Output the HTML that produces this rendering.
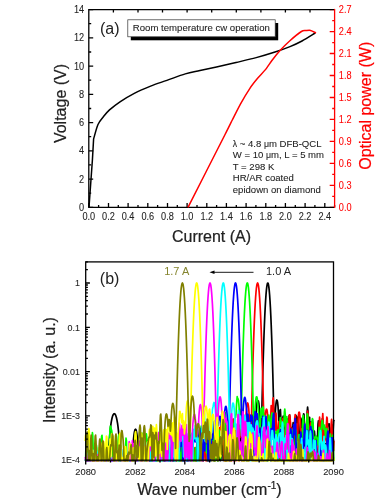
<!DOCTYPE html>
<html><head><meta charset="utf-8"><style>
html,body{margin:0;padding:0;background:#fff;width:392px;height:500px;overflow:hidden}
svg{display:block;will-change:transform;filter:blur(0.5px)}
text{font-family:"Liberation Sans", sans-serif}
</style></head><body>
<svg width="392" height="500" viewBox="0 0 392 500">
<path d="M88.8 207.3v-4.2 M98.6 207.3v-2.2 M108.5 207.3v-4.2 M118.3 207.3v-2.2 M128.1 207.3v-4.2 M138.0 207.3v-2.2 M147.8 207.3v-4.2 M157.6 207.3v-2.2 M167.5 207.3v-4.2 M177.3 207.3v-2.2 M187.1 207.3v-4.2 M197.0 207.3v-2.2 M206.8 207.3v-4.2 M216.6 207.3v-2.2 M226.4 207.3v-4.2 M236.3 207.3v-2.2 M246.1 207.3v-4.2 M255.9 207.3v-2.2 M265.8 207.3v-4.2 M275.6 207.3v-2.2 M285.4 207.3v-4.2 M295.3 207.3v-2.2 M305.1 207.3v-4.2 M314.9 207.3v-2.2 M324.8 207.3v-4.2 M334.6 207.3v-2.2 M113.4 9.6v3 M138.0 9.6v3 M162.5 9.6v3 M187.1 9.6v3 M211.7 9.6v3 M236.3 9.6v3 M260.9 9.6v3 M285.4 9.6v3 M310.0 9.6v3 M88.8 207.3h4.4 M88.8 193.2h2.4 M88.8 179.1h4.4 M88.8 164.9h2.4 M88.8 150.8h4.4 M88.8 136.7h2.4 M88.8 122.6h4.4 M88.8 108.5h2.4 M88.8 94.3h4.4 M88.8 80.2h2.4 M88.8 66.1h4.4 M88.8 52.0h2.4 M88.8 37.8h4.4 M88.8 23.7h2.4 M88.8 9.6h4.4" stroke="#000" stroke-width="1.3" fill="none"/>
<path d="M334.6 207.3h-4.9 M334.6 196.3h-2.4 M334.6 185.3h-4.9 M334.6 174.4h-2.4 M334.6 163.4h-4.9 M334.6 152.4h-2.4 M334.6 141.4h-4.9 M334.6 130.4h-2.4 M334.6 119.4h-4.9 M334.6 108.5h-2.4 M334.6 97.5h-4.9 M334.6 86.5h-2.4 M334.6 75.5h-4.9 M334.6 64.5h-2.4 M334.6 53.5h-4.9 M334.6 42.6h-2.4 M334.6 31.6h-4.9 M334.6 20.6h-2.4 M334.6 9.6h-4.9" stroke="#f00" stroke-width="1.3" fill="none"/>
<path d="M334.6 9.6H88.8V207.3H334.6" stroke="#000" stroke-width="1.3" fill="none" stroke-linejoin="miter"/>
<path d="M334.6 8.9V208.0" stroke="#f00" stroke-width="1.3" fill="none"/>
<text transform="translate(88.8 220.1) scale(0.92 1)" font-size="10.0" text-anchor="middle" fill="#222" stroke="#222" stroke-width="0.08" >0.0</text>
<text transform="translate(108.5 220.1) scale(0.92 1)" font-size="10.0" text-anchor="middle" fill="#222" stroke="#222" stroke-width="0.08" >0.2</text>
<text transform="translate(128.1 220.1) scale(0.92 1)" font-size="10.0" text-anchor="middle" fill="#222" stroke="#222" stroke-width="0.08" >0.4</text>
<text transform="translate(147.8 220.1) scale(0.92 1)" font-size="10.0" text-anchor="middle" fill="#222" stroke="#222" stroke-width="0.08" >0.6</text>
<text transform="translate(167.5 220.1) scale(0.92 1)" font-size="10.0" text-anchor="middle" fill="#222" stroke="#222" stroke-width="0.08" >0.8</text>
<text transform="translate(187.1 220.1) scale(0.92 1)" font-size="10.0" text-anchor="middle" fill="#222" stroke="#222" stroke-width="0.08" >1.0</text>
<text transform="translate(206.8 220.1) scale(0.92 1)" font-size="10.0" text-anchor="middle" fill="#222" stroke="#222" stroke-width="0.08" >1.2</text>
<text transform="translate(226.4 220.1) scale(0.92 1)" font-size="10.0" text-anchor="middle" fill="#222" stroke="#222" stroke-width="0.08" >1.4</text>
<text transform="translate(246.1 220.1) scale(0.92 1)" font-size="10.0" text-anchor="middle" fill="#222" stroke="#222" stroke-width="0.08" >1.6</text>
<text transform="translate(265.8 220.1) scale(0.92 1)" font-size="10.0" text-anchor="middle" fill="#222" stroke="#222" stroke-width="0.08" >1.8</text>
<text transform="translate(285.4 220.1) scale(0.92 1)" font-size="10.0" text-anchor="middle" fill="#222" stroke="#222" stroke-width="0.08" >2.0</text>
<text transform="translate(305.1 220.1) scale(0.92 1)" font-size="10.0" text-anchor="middle" fill="#222" stroke="#222" stroke-width="0.08" >2.2</text>
<text transform="translate(324.8 220.1) scale(0.92 1)" font-size="10.0" text-anchor="middle" fill="#222" stroke="#222" stroke-width="0.08" >2.4</text>
<text transform="translate(84.2 210.8) scale(0.92 1)" font-size="10.0" text-anchor="end" fill="#222" stroke="#222" stroke-width="0.08" >0</text>
<text transform="translate(84.2 182.6) scale(0.92 1)" font-size="10.0" text-anchor="end" fill="#222" stroke="#222" stroke-width="0.08" >2</text>
<text transform="translate(84.2 154.3) scale(0.92 1)" font-size="10.0" text-anchor="end" fill="#222" stroke="#222" stroke-width="0.08" >4</text>
<text transform="translate(84.2 126.1) scale(0.92 1)" font-size="10.0" text-anchor="end" fill="#222" stroke="#222" stroke-width="0.08" >6</text>
<text transform="translate(84.2 97.8) scale(0.92 1)" font-size="10.0" text-anchor="end" fill="#222" stroke="#222" stroke-width="0.08" >8</text>
<text transform="translate(84.2 69.6) scale(0.92 1)" font-size="10.0" text-anchor="end" fill="#222" stroke="#222" stroke-width="0.08" >10</text>
<text transform="translate(84.2 41.3) scale(0.92 1)" font-size="10.0" text-anchor="end" fill="#222" stroke="#222" stroke-width="0.08" >12</text>
<text transform="translate(84.2 13.1) scale(0.92 1)" font-size="10.0" text-anchor="end" fill="#222" stroke="#222" stroke-width="0.08" >14</text>
<text transform="translate(338.8 210.8) scale(0.92 1)" font-size="10.0" text-anchor="start" fill="#f00" stroke="#f00" stroke-width="0.08" >0.0</text>
<text transform="translate(338.8 188.8) scale(0.92 1)" font-size="10.0" text-anchor="start" fill="#f00" stroke="#f00" stroke-width="0.08" >0.3</text>
<text transform="translate(338.8 166.9) scale(0.92 1)" font-size="10.0" text-anchor="start" fill="#f00" stroke="#f00" stroke-width="0.08" >0.6</text>
<text transform="translate(338.8 144.9) scale(0.92 1)" font-size="10.0" text-anchor="start" fill="#f00" stroke="#f00" stroke-width="0.08" >0.9</text>
<text transform="translate(338.8 122.9) scale(0.92 1)" font-size="10.0" text-anchor="start" fill="#f00" stroke="#f00" stroke-width="0.08" >1.2</text>
<text transform="translate(338.8 101.0) scale(0.92 1)" font-size="10.0" text-anchor="start" fill="#f00" stroke="#f00" stroke-width="0.08" >1.5</text>
<text transform="translate(338.8 79.0) scale(0.92 1)" font-size="10.0" text-anchor="start" fill="#f00" stroke="#f00" stroke-width="0.08" >1.8</text>
<text transform="translate(338.8 57.0) scale(0.92 1)" font-size="10.0" text-anchor="start" fill="#f00" stroke="#f00" stroke-width="0.08" >2.1</text>
<text transform="translate(338.8 35.1) scale(0.92 1)" font-size="10.0" text-anchor="start" fill="#f00" stroke="#f00" stroke-width="0.08" >2.4</text>
<text transform="translate(338.8 13.1) scale(0.92 1)" font-size="10.0" text-anchor="start" fill="#f00" stroke="#f00" stroke-width="0.08" >2.7</text>
<text x="211.5" y="241.8" font-size="16" text-anchor="middle" fill="#222" stroke="#222" stroke-width="0.22" >Current (A)</text>
<text transform="translate(65.8 103.5) rotate(-90)" font-size="16" text-anchor="middle" fill="#222" stroke="#222" stroke-width="0.22">Voltage (V)</text>
<text transform="translate(370.9 105.8) rotate(-90)" font-size="16" text-anchor="middle" fill="#f00" stroke="#f00" stroke-width="0.22">Optical power (W)</text>
<text x="100.0" y="34.4" font-size="16" text-anchor="start" fill="#222" >(a)</text>
<rect x="130.8" y="23" width="147.4" height="17.3" fill="#000"/>
<rect x="127.8" y="19.8" width="147.4" height="17" fill="#fff" stroke="#333" stroke-width="0.7"/>
<text x="132.8" y="31.3" font-size="9.6" text-anchor="start" fill="#222" stroke="#222" stroke-width="0.08" >Room temperature cw operation</text>
<text x="232.8" y="147.0" font-size="9.55" text-anchor="start" fill="#222" stroke="#222" stroke-width="0.08" ><tspan font-size="8.6">&#955;</tspan> ~ 4.8 <tspan font-size="8.8">&#956;</tspan>m DFB-QCL</text>
<text x="232.8" y="158.4" font-size="9.55" text-anchor="start" fill="#222" stroke="#222" stroke-width="0.08" >W = 10 <tspan font-size="8.8">&#956;</tspan>m, L = 5 mm</text>
<text x="232.8" y="169.9" font-size="9.55" text-anchor="start" fill="#222" stroke="#222" stroke-width="0.08" >T = 298 K</text>
<text x="232.8" y="181.3" font-size="9.55" text-anchor="start" fill="#222" stroke="#222" stroke-width="0.08" >HR/AR coated</text>
<text x="232.8" y="192.8" font-size="9.55" text-anchor="start" fill="#222" stroke="#222" stroke-width="0.08" >epidown on diamond</text>
<path d="M89.0 207.3 L92.4 160 L93.6 139 C94.33 136.58 96.37 128.20 98.0 124.5 C99.63 120.80 101.48 119.23 103.4 116.8 C105.32 114.37 106.73 112.40 109.5 109.9 C112.27 107.40 115.87 104.57 120.0 101.8 C124.13 99.03 129.20 95.92 134.3 93.3 C139.40 90.68 145.17 88.25 150.6 86.1 C156.03 83.95 161.12 82.43 166.9 80.4 C172.68 78.37 179.78 75.53 185.3 73.9 C190.82 72.27 194.80 71.75 200.0 70.6 C205.20 69.45 210.50 68.35 216.5 67.0 C222.50 65.65 229.38 64.07 236.0 62.5 C242.62 60.93 249.70 59.35 256.2 57.6 C262.70 55.85 269.37 53.83 275.0 52.0 C280.63 50.17 285.50 48.43 290.0 46.6 C294.50 44.77 297.78 43.27 302.0 41.0 C306.22 38.73 313.08 34.33 315.3 33.0" stroke="#000" stroke-width="1.5" fill="none" stroke-linejoin="round"/>
<path d="M188.0 207.3 C192.91 197.66 218.89 146.64 224.8 135.0 C230.71 123.36 230.18 124.19 232.3 120.0 C234.42 115.81 238.35 107.83 240.7 103.6 C243.05 99.37 247.65 91.67 249.9 88.3 C252.15 84.93 255.56 80.75 257.6 78.3 C259.64 75.85 263.16 72.45 265.2 69.9 C267.24 67.35 270.86 61.85 272.9 59.2 C274.94 56.55 278.23 52.47 280.5 50.0 C282.77 47.53 287.11 43.17 289.9 40.7 C292.69 38.23 299.25 32.85 301.4 31.5 C303.55 30.15 304.77 30.75 306.0 30.6 C307.23 30.45 309.27 30.08 310.6 30.4 C311.93 30.72 315.28 32.65 316.0 33.0" stroke="#f00" stroke-width="1.5" fill="none" stroke-linejoin="round"/>
<path d="M85.2 460.7 L85.6 460.7 L86.0 457.5 L86.4 450.6 L86.8 453.2 L87.2 460.7 L87.6 460.7 L88.0 460.7 L88.4 460.7 L88.8 460.7 L89.2 460.7 L89.6 460.7 L90.0 460.7 L90.4 460.7 L90.8 460.7 L91.2 460.7 L91.6 460.7 L92.0 460.7 L92.4 460.7 L92.8 460.7 L93.2 460.7 L93.6 460.7 L94.0 460.7 L94.4 460.7 L94.8 460.7 L95.2 460.7 L95.6 460.7 L96.0 460.7 L96.4 460.7 L96.8 460.7 L97.2 457.0 L97.6 453.5 L98.0 455.5 L98.4 460.7 L98.8 460.7 L99.2 460.7 L99.6 460.7 L100.0 456.7 L100.4 454.3 L100.8 456.6 L101.2 460.7 L101.6 460.7 L102.0 460.7 L102.4 460.7 L102.8 459.9 L103.2 452.7 L103.6 453.8 L104.0 460.7 L104.4 460.7 L104.8 460.7 L105.2 460.7 L105.6 460.7 L106.0 460.7 L106.4 460.7 L106.8 460.7 L107.2 460.7 L107.6 460.7 L108.0 460.7 L108.4 456.5 L108.8 448.3 L109.2 441.8 L109.6 436.5 L110.0 432.0 L110.4 428.3 L110.8 425.1 L111.2 422.4 L111.6 420.2 L112.0 418.3 L112.4 416.8 L112.8 415.6 L113.2 414.7 L113.6 414.1 L114.0 413.8 L114.4 413.7 L114.8 413.9 L115.2 414.4 L115.6 415.1 L116.0 416.2 L116.4 417.5 L116.8 419.2 L117.2 421.3 L117.6 423.7 L118.0 426.6 L118.4 430.1 L118.8 434.1 L119.2 439.0 L119.6 444.9 L120.0 452.1 L120.4 460.7 L120.8 460.7 L121.2 460.7 L121.6 460.7 L122.0 459.6 L122.4 455.9 L122.8 460.7 L123.2 460.7 L123.6 460.7 L124.0 460.7 L124.4 460.7 L124.8 460.7 L125.2 460.7 L125.6 460.7 L126.0 460.7 L126.4 460.7 L126.8 460.7 L127.2 460.7 L127.6 460.1 L128.0 460.7 L128.4 460.7 L128.8 460.7 L129.2 460.7 L129.6 460.7 L130.0 460.7 L130.4 460.7 L130.8 460.7 L131.2 460.7 L131.6 460.7 L132.0 460.7 L132.4 458.3 L132.8 449.6 L133.2 443.2 L133.6 438.4 L134.0 434.7 L134.4 432.1 L134.8 430.4 L135.2 429.4 L135.6 429.2 L136.0 429.8 L136.4 431.1 L136.8 433.3 L137.2 436.4 L137.6 440.6 L138.0 446.2 L138.4 453.6 L138.8 460.7 L139.2 460.7 L139.6 460.7 L140.0 460.7 L140.4 460.7 L140.8 460.7 L141.2 460.7 L141.6 460.7 L142.0 460.7 L142.4 460.7 L142.8 460.7 L143.2 460.7 L143.6 453.3 L144.0 451.7 L144.4 458.1 L144.8 460.7 L145.2 460.7 L145.6 460.7 L146.0 460.7 L146.4 460.7 L146.8 460.7 L147.2 460.7 L147.6 453.8 L148.0 448.6 L148.4 449.5 L148.8 457.1 L149.2 460.7 L149.6 460.7 L150.0 460.7 L150.4 460.7 L150.8 460.7 L151.2 460.7 L151.6 460.7 L152.0 460.7 L152.4 460.7 L152.8 460.7 L153.2 460.7 L153.6 460.7 L154.0 460.7 L154.4 460.7 L154.8 460.7 L155.2 460.7 L155.6 460.7 L156.0 460.7 L156.4 460.7 L156.8 460.7 L157.2 460.0 L157.6 460.7 L158.0 460.7 L158.4 460.7 L158.8 460.1 L159.2 460.7 L159.6 460.7 L160.0 460.7 L160.4 460.7 L160.8 460.7 L161.2 458.9 L161.6 456.9 L162.0 455.7 L162.4 456.3 L162.8 460.6 L163.2 460.7 L163.6 460.7 L164.0 460.7 L164.4 460.7 L164.8 460.7 L165.2 460.7 L165.6 459.1 L166.0 448.6 L166.4 447.1 L166.8 452.8 L167.2 460.7 L167.6 460.7 L168.0 460.7 L168.4 460.7 L168.8 460.7 L169.2 460.7 L169.6 460.7 L170.0 460.7 L170.4 456.6 L170.8 448.6 L171.2 447.2 L171.6 452.8 L172.0 460.7 L172.4 460.7 L172.8 460.7 L173.2 460.7 L173.6 460.7 L174.0 460.7 L174.4 460.7 L174.8 460.7 L175.2 460.7 L175.6 460.7 L176.0 460.7 L176.4 460.7 L176.8 460.7 L177.2 460.6 L177.6 444.9 L178.0 440.5 L178.4 445.8 L178.8 460.7 L179.2 460.7 L179.6 460.7 L180.0 460.7 L180.4 460.7 L180.8 460.7 L181.2 460.7 L181.6 460.7 L182.0 460.7 L182.4 458.9 L182.8 456.1 L183.2 460.7 L183.6 460.7 L184.0 460.7 L184.4 460.7 L184.8 460.7 L185.2 457.0 L185.6 447.1 L186.0 445.9 L186.4 454.0 L186.8 460.7 L187.2 460.7 L187.6 460.7 L188.0 460.7 L188.4 460.7 L188.8 460.7 L189.2 460.7 L189.6 456.4 L190.0 449.9 L190.4 456.8 L190.8 460.7 L191.2 460.7 L191.6 460.7 L192.0 458.0 L192.4 447.3 L192.8 443.1 L193.2 448.0 L193.6 460.7 L194.0 460.7 L194.4 450.7 L194.8 448.3 L195.2 453.0 L195.6 460.7 L196.0 460.7 L196.4 460.7 L196.8 460.7 L197.2 460.7 L197.6 456.1 L198.0 451.6 L198.4 458.2 L198.8 460.7 L199.2 460.7 L199.6 460.7 L200.0 458.2 L200.4 456.8 L200.8 455.4 L201.2 453.1 L201.6 450.3 L202.0 448.1 L202.4 447.5 L202.8 452.2 L203.2 460.7 L203.6 460.7 L204.0 448.3 L204.4 441.5 L204.8 441.9 L205.2 441.9 L205.6 438.6 L206.0 438.5 L206.4 445.5 L206.8 460.7 L207.2 460.7 L207.6 460.7 L208.0 456.2 L208.4 457.8 L208.8 460.7 L209.2 460.7 L209.6 460.7 L210.0 451.2 L210.4 440.2 L210.8 438.7 L211.2 446.1 L211.6 456.3 L212.0 448.8 L212.4 444.0 L212.8 447.3 L213.2 456.0 L213.6 460.7 L214.0 460.7 L214.4 460.7 L214.8 460.7 L215.2 446.8 L215.6 434.3 L216.0 430.7 L216.4 435.6 L216.8 450.8 L217.2 460.7 L217.6 458.4 L218.0 460.7 L218.4 460.7 L218.8 444.2 L219.2 441.2 L219.6 447.7 L220.0 460.7 L220.4 460.7 L220.8 460.7 L221.2 453.2 L221.6 444.4 L222.0 440.1 L222.4 439.6 L222.8 447.3 L223.2 460.7 L223.6 452.2 L224.0 437.3 L224.4 437.3 L224.8 450.1 L225.2 460.7 L225.6 460.3 L226.0 460.7 L226.4 460.7 L226.8 460.7 L227.2 455.6 L227.6 459.6 L228.0 458.7 L228.4 455.6 L228.8 459.8 L229.2 460.7 L229.6 460.7 L230.0 457.7 L230.4 448.5 L230.8 451.8 L231.2 460.7 L231.6 452.3 L232.0 436.0 L232.4 429.8 L232.8 427.9 L233.2 427.7 L233.6 429.4 L234.0 434.4 L234.4 443.2 L234.8 454.7 L235.2 456.1 L235.6 443.6 L236.0 436.6 L236.4 436.3 L236.8 437.2 L237.2 433.0 L237.6 431.1 L238.0 437.8 L238.4 439.0 L238.8 421.7 L239.2 411.9 L239.6 409.0 L240.0 411.9 L240.4 420.4 L240.8 435.9 L241.2 457.6 L241.6 448.6 L242.0 437.5 L242.4 432.3 L242.8 431.8 L243.2 438.2 L243.6 456.3 L244.0 456.1 L244.4 441.6 L244.8 439.2 L245.2 443.2 L245.6 450.4 L246.0 460.7 L246.4 459.2 L246.8 436.5 L247.2 431.2 L247.6 438.0 L248.0 460.7 L248.4 456.4 L248.8 445.4 L249.2 442.0 L249.6 437.5 L250.0 433.5 L250.4 425.6 L250.8 420.3 L251.2 417.0 L251.6 415.2 L252.0 414.9 L252.4 416.1 L252.8 418.8 L253.2 423.3 L253.6 430.0 L254.0 440.1 L254.4 431.1 L254.8 429.3 L255.2 431.6 L255.6 426.3 L256.0 416.2 L256.4 408.5 L256.8 403.5 L257.2 401.3 L257.6 401.8 L258.0 400.8 L258.4 401.2 L258.8 403.2 L259.2 406.8 L259.6 412.3 L260.0 420.6 L260.4 433.1 L260.8 430.7 L261.2 431.1 L261.6 422.0 L262.0 404.7 L262.4 388.5 L262.8 373.4 L263.2 359.5 L263.6 346.8 L264.0 335.2 L264.4 324.8 L264.8 315.5 L265.2 307.4 L265.6 300.5 L266.0 294.7 L266.4 290.1 L266.8 286.6 L267.2 284.3 L267.6 283.1 L268.0 283.1 L268.4 284.3 L268.8 286.6 L269.2 290.1 L269.6 294.7 L270.0 300.5 L270.4 307.4 L270.8 315.5 L271.2 324.8 L271.6 335.2 L272.0 346.8 L272.4 359.5 L272.8 373.4 L273.2 388.5 L273.6 404.7 L274.0 422.0 L274.4 425.2 L274.8 423.4 L275.2 414.0 L275.6 407.6 L276.0 403.4 L276.4 400.9 L276.8 400.0 L277.2 400.5 L277.6 402.4 L278.0 406.1 L278.4 411.7 L278.8 420.1 L279.2 432.7 L279.6 421.8 L280.0 410.6 L280.4 409.6 L280.8 417.0 L281.2 426.5 L281.6 426.0 L282.0 425.4 L282.4 420.5 L282.8 417.6 L283.2 416.1 L283.6 416.2 L284.0 417.7 L284.4 420.8 L284.8 425.7 L285.2 430.4 L285.6 444.2 L286.0 451.5 L286.4 428.4 L286.8 420.9 L287.2 419.2 L287.6 419.1 L288.0 421.0 L288.4 424.7 L288.8 421.3 L289.2 415.5 L289.6 415.0 L290.0 419.4 L290.4 425.2 L290.8 432.1 L291.2 440.1 L291.6 433.7 L292.0 428.2 L292.4 428.5 L292.8 425.9 L293.2 422.6 L293.6 425.3 L294.0 431.2 L294.4 434.1 L294.8 449.0 L295.2 451.7 L295.6 422.0 L296.0 415.3 L296.4 422.2 L296.8 455.4 L297.2 429.7 L297.6 417.0 L298.0 417.5 L298.4 427.2 L298.8 443.6 L299.2 448.1 L299.6 446.9 L300.0 438.5 L300.4 424.8 L300.8 418.0 L301.2 419.4 L301.6 430.2 L302.0 452.8 L302.4 460.7 L302.8 443.4 L303.2 423.0 L303.6 413.9 L304.0 414.2 L304.4 424.3 L304.8 446.0 L305.2 443.4 L305.6 435.0 L306.0 431.4 L306.4 428.1 L306.8 420.8 L307.2 411.5 L307.6 407.2 L308.0 411.3 L308.4 429.3 L308.8 434.5 L309.2 417.4 L309.6 417.3 L310.0 433.4 L310.4 457.8 L310.8 427.9 L311.2 422.1 L311.6 423.1 L312.0 423.3 L312.4 421.9 L312.8 423.7 L313.2 432.9 L313.6 446.9 L314.0 437.0 L314.4 431.1 L314.8 435.3 L315.2 444.3 L315.6 448.6 L316.0 451.3 L316.4 443.6 L316.8 436.4 L317.2 438.2 L317.6 435.1 L318.0 424.0 L318.4 420.8 L318.8 429.3 L319.2 455.4 L319.6 435.4 L320.0 425.0 L320.4 425.2 L320.8 430.8 L321.2 438.0 L321.6 435.5 L322.0 424.5 L322.4 418.6 L322.8 420.0 L323.2 429.7 L323.6 453.4 L324.0 460.7 L324.4 448.6 L324.8 444.0 L325.2 443.5 L325.6 445.2 L326.0 453.1 L326.4 460.7 L326.8 450.5 L327.2 433.0 L327.6 426.6 L328.0 425.6 L328.4 425.4 L328.8 423.9 L329.2 423.9 L329.6 427.6 L330.0 435.8 L330.4 451.5 L330.8 460.7 L331.2 440.7 L331.6 428.8 L332.0 425.1 L332.4 428.0 L332.8 433.4 L333.2 428.9 L333.6 421.6 L334.0 419.7" stroke="#000000" stroke-width="1.7" fill="none" stroke-linejoin="round"/>
<path d="M85.2 460.7 L85.6 459.9 L86.0 460.7 L86.4 460.7 L86.8 460.7 L87.2 460.7 L87.6 460.7 L88.0 460.7 L88.4 460.7 L88.8 460.7 L89.2 460.7 L89.6 460.7 L90.0 460.7 L90.4 460.7 L90.8 460.7 L91.2 460.7 L91.6 460.7 L92.0 460.7 L92.4 460.7 L92.8 460.7 L93.2 460.7 L93.6 460.7 L94.0 460.7 L94.4 460.7 L94.8 460.7 L95.2 460.7 L95.6 460.7 L96.0 460.7 L96.4 460.7 L96.8 460.7 L97.2 460.7 L97.6 460.7 L98.0 460.7 L98.4 460.7 L98.8 460.7 L99.2 460.7 L99.6 460.7 L100.0 460.7 L100.4 460.7 L100.8 460.7 L101.2 460.7 L101.6 459.5 L102.0 460.7 L102.4 460.7 L102.8 460.7 L103.2 460.1 L103.6 459.0 L104.0 460.7 L104.4 460.7 L104.8 460.7 L105.2 460.7 L105.6 453.7 L106.0 455.8 L106.4 460.7 L106.8 460.7 L107.2 460.7 L107.6 460.7 L108.0 460.7 L108.4 460.7 L108.8 460.7 L109.2 453.9 L109.6 450.3 L110.0 456.3 L110.4 460.7 L110.8 460.7 L111.2 460.7 L111.6 460.7 L112.0 460.7 L112.4 460.7 L112.8 460.7 L113.2 460.7 L113.6 460.7 L114.0 460.7 L114.4 460.7 L114.8 460.7 L115.2 455.5 L115.6 454.2 L116.0 460.7 L116.4 460.7 L116.8 460.7 L117.2 460.7 L117.6 460.7 L118.0 460.7 L118.4 460.7 L118.8 460.7 L119.2 460.7 L119.6 460.7 L120.0 460.7 L120.4 460.7 L120.8 460.7 L121.2 460.7 L121.6 460.7 L122.0 460.7 L122.4 460.7 L122.8 460.7 L123.2 460.7 L123.6 460.7 L124.0 460.7 L124.4 460.7 L124.8 460.7 L125.2 460.7 L125.6 460.7 L126.0 460.7 L126.4 460.7 L126.8 460.7 L127.2 460.7 L127.6 456.9 L128.0 460.7 L128.4 460.7 L128.8 457.6 L129.2 455.0 L129.6 460.7 L130.0 460.7 L130.4 460.7 L130.8 460.7 L131.2 460.7 L131.6 460.7 L132.0 460.7 L132.4 460.7 L132.8 460.7 L133.2 460.7 L133.6 460.5 L134.0 460.7 L134.4 460.7 L134.8 459.5 L135.2 451.6 L135.6 453.3 L136.0 460.7 L136.4 460.7 L136.8 460.7 L137.2 460.7 L137.6 460.7 L138.0 460.7 L138.4 455.9 L138.8 457.4 L139.2 460.7 L139.6 460.7 L140.0 460.7 L140.4 460.7 L140.8 460.7 L141.2 460.7 L141.6 460.7 L142.0 460.7 L142.4 460.7 L142.8 460.7 L143.2 460.7 L143.6 460.7 L144.0 460.7 L144.4 460.7 L144.8 460.7 L145.2 460.7 L145.6 460.7 L146.0 458.6 L146.4 457.4 L146.8 460.2 L147.2 460.7 L147.6 460.7 L148.0 460.7 L148.4 460.7 L148.8 460.7 L149.2 460.7 L149.6 460.7 L150.0 460.7 L150.4 460.7 L150.8 453.6 L151.2 452.3 L151.6 460.7 L152.0 460.7 L152.4 460.7 L152.8 460.7 L153.2 459.1 L153.6 456.8 L154.0 452.8 L154.4 448.4 L154.8 445.7 L155.2 446.3 L155.6 450.7 L156.0 457.1 L156.4 460.7 L156.8 460.7 L157.2 460.7 L157.6 460.7 L158.0 460.7 L158.4 460.7 L158.8 460.7 L159.2 460.7 L159.6 460.7 L160.0 460.7 L160.4 460.7 L160.8 459.0 L161.2 456.4 L161.6 455.5 L162.0 456.1 L162.4 456.8 L162.8 455.1 L163.2 455.4 L163.6 460.7 L164.0 460.7 L164.4 460.7 L164.8 460.7 L165.2 460.7 L165.6 460.7 L166.0 460.7 L166.4 460.7 L166.8 460.7 L167.2 460.1 L167.6 460.7 L168.0 460.7 L168.4 460.7 L168.8 457.7 L169.2 451.4 L169.6 452.8 L170.0 460.1 L170.4 460.7 L170.8 460.7 L171.2 460.7 L171.6 460.7 L172.0 460.7 L172.4 460.7 L172.8 460.7 L173.2 454.9 L173.6 457.3 L174.0 460.7 L174.4 460.7 L174.8 460.7 L175.2 460.7 L175.6 460.7 L176.0 460.7 L176.4 460.7 L176.8 460.7 L177.2 460.7 L177.6 460.7 L178.0 460.7 L178.4 460.7 L178.8 460.7 L179.2 460.7 L179.6 460.7 L180.0 453.7 L180.4 451.6 L180.8 459.9 L181.2 460.7 L181.6 453.3 L182.0 446.6 L182.4 447.9 L182.8 451.8 L183.2 455.8 L183.6 460.7 L184.0 460.7 L184.4 449.9 L184.8 441.8 L185.2 443.4 L185.6 449.9 L186.0 452.3 L186.4 454.3 L186.8 460.7 L187.2 460.7 L187.6 460.7 L188.0 460.7 L188.4 460.7 L188.8 460.7 L189.2 460.7 L189.6 460.7 L190.0 460.4 L190.4 460.7 L190.8 460.7 L191.2 457.3 L191.6 445.9 L192.0 447.4 L192.4 460.7 L192.8 460.7 L193.2 457.5 L193.6 448.7 L194.0 447.5 L194.4 453.5 L194.8 460.7 L195.2 460.7 L195.6 460.7 L196.0 460.7 L196.4 458.4 L196.8 444.0 L197.2 443.2 L197.6 455.3 L198.0 452.8 L198.4 438.8 L198.8 437.2 L199.2 446.6 L199.6 448.3 L200.0 434.1 L200.4 428.5 L200.8 431.1 L201.2 442.2 L201.6 460.7 L202.0 460.7 L202.4 460.7 L202.8 460.7 L203.2 460.7 L203.6 448.4 L204.0 443.4 L204.4 443.7 L204.8 447.6 L205.2 455.4 L205.6 460.7 L206.0 460.7 L206.4 460.7 L206.8 448.3 L207.2 445.3 L207.6 451.5 L208.0 460.7 L208.4 460.7 L208.8 460.7 L209.2 460.7 L209.6 449.5 L210.0 443.0 L210.4 442.6 L210.8 445.4 L211.2 450.3 L211.6 460.7 L212.0 459.8 L212.4 441.6 L212.8 434.9 L213.2 434.5 L213.6 432.8 L214.0 428.6 L214.4 428.4 L214.8 436.6 L215.2 460.7 L215.6 459.5 L216.0 442.9 L216.4 441.6 L216.8 447.8 L217.2 454.1 L217.6 453.0 L218.0 453.8 L218.4 458.7 L218.8 447.6 L219.2 434.1 L219.6 427.8 L220.0 427.5 L220.4 429.6 L220.8 427.4 L221.2 424.7 L221.6 428.8 L222.0 444.6 L222.4 441.9 L222.8 427.8 L223.2 425.5 L223.6 431.7 L224.0 443.9 L224.4 460.7 L224.8 460.7 L225.2 438.4 L225.6 426.6 L226.0 425.6 L226.4 434.4 L226.8 458.5 L227.2 460.7 L227.6 451.1 L228.0 449.1 L228.4 447.1 L228.8 440.2 L229.2 433.0 L229.6 430.1 L230.0 434.3 L230.4 450.3 L230.8 460.7 L231.2 444.2 L231.6 434.6 L232.0 429.2 L232.4 423.9 L232.8 419.7 L233.2 419.0 L233.6 424.4 L234.0 441.0 L234.4 449.7 L234.8 432.1 L235.2 429.0 L235.6 437.1 L236.0 456.9 L236.4 449.0 L236.8 437.5 L237.2 433.6 L237.6 434.4 L238.0 441.6 L238.4 455.2 L238.8 442.9 L239.2 432.0 L239.6 431.7 L240.0 437.4 L240.4 430.6 L240.8 426.1 L241.2 423.3 L241.6 422.1 L242.0 422.4 L242.4 424.1 L242.8 427.4 L243.2 432.7 L243.6 422.8 L244.0 421.9 L244.4 441.4 L244.8 450.4 L245.2 430.2 L245.6 424.6 L246.0 415.8 L246.4 409.8 L246.8 405.8 L247.2 403.6 L247.6 402.9 L248.0 403.6 L248.4 405.8 L248.8 409.7 L249.2 415.8 L249.6 424.6 L250.0 428.3 L250.4 424.4 L250.8 429.9 L251.2 431.1 L251.6 413.2 L252.0 396.4 L252.4 380.8 L252.8 366.3 L253.2 353.0 L253.6 340.9 L254.0 329.9 L254.4 320.0 L254.8 311.4 L255.2 303.8 L255.6 297.5 L256.0 292.3 L256.4 288.2 L256.8 285.3 L257.2 283.6 L257.6 283.0 L258.0 283.6 L258.4 285.3 L258.8 288.2 L259.2 292.3 L259.6 297.5 L260.0 303.8 L260.4 311.4 L260.8 320.0 L261.2 329.9 L261.6 340.9 L262.0 353.0 L262.4 366.3 L262.8 380.8 L263.2 396.4 L263.6 410.4 L264.0 417.2 L264.4 434.1 L264.8 424.2 L265.2 417.5 L265.6 413.0 L266.0 410.3 L266.4 409.2 L266.8 409.5 L267.2 411.3 L267.6 414.7 L268.0 419.5 L268.4 424.4 L268.8 429.4 L269.2 424.1 L269.6 424.1 L270.0 432.0 L270.4 431.6 L270.8 414.6 L271.2 405.5 L271.6 407.1 L272.0 428.4 L272.4 420.9 L272.8 400.5 L273.2 397.9 L273.6 409.2 L274.0 421.6 L274.4 420.9 L274.8 418.4 L275.2 430.2 L275.6 424.8 L276.0 413.2 L276.4 418.7 L276.8 435.1 L277.2 428.9 L277.6 428.3 L278.0 436.3 L278.4 426.2 L278.8 421.6 L279.2 428.8 L279.6 440.3 L280.0 440.2 L280.4 449.2 L280.8 457.8 L281.2 448.2 L281.6 460.7 L282.0 443.1 L282.4 423.2 L282.8 418.4 L283.2 422.5 L283.6 433.5 L284.0 445.4 L284.4 444.6 L284.8 438.1 L285.2 438.0 L285.6 452.2 L286.0 458.9 L286.4 434.0 L286.8 425.8 L287.2 426.3 L287.6 435.6 L288.0 459.9 L288.4 438.6 L288.8 422.8 L289.2 416.4 L289.6 414.8 L290.0 416.8 L290.4 422.4 L290.8 433.1 L291.2 446.3 L291.6 439.1 L292.0 429.6 L292.4 428.4 L292.8 437.4 L293.2 456.0 L293.6 440.9 L294.0 432.2 L294.4 425.9 L294.8 417.6 L295.2 414.6 L295.6 421.5 L296.0 453.9 L296.4 437.9 L296.8 424.1 L297.2 429.7 L297.6 445.4 L298.0 425.7 L298.4 415.5 L298.8 412.6 L299.2 412.1 L299.6 413.0 L300.0 416.7 L300.4 425.2 L300.8 442.6 L301.2 460.7 L301.6 437.2 L302.0 428.8 L302.4 432.2 L302.8 445.5 L303.2 440.4 L303.6 428.8 L304.0 425.6 L304.4 428.0 L304.8 432.6 L305.2 432.1 L305.6 428.2 L306.0 431.5 L306.4 459.9 L306.8 436.7 L307.2 416.6 L307.6 411.0 L308.0 414.2 L308.4 424.0 L308.8 431.2 L309.2 434.1 L309.6 453.9 L310.0 447.0 L310.4 426.1 L310.8 422.8 L311.2 429.9 L311.6 435.7 L312.0 428.1 L312.4 426.0 L312.8 432.7 L313.2 446.7 L313.6 451.7 L314.0 445.0 L314.4 443.6 L314.8 450.1 L315.2 453.6 L315.6 442.9 L316.0 440.1 L316.4 449.0 L316.8 460.7 L317.2 460.7 L317.6 460.7 L318.0 451.5 L318.4 443.0 L318.8 435.6 L319.2 423.4 L319.6 417.2 L320.0 422.0 L320.4 453.1 L320.8 436.1 L321.2 421.3 L321.6 427.1 L322.0 440.1 L322.4 419.2 L322.8 413.5 L323.2 422.4 L323.6 458.4 L324.0 432.0 L324.4 427.0 L324.8 441.4 L325.2 439.9 L325.6 428.5 L326.0 428.7 L326.4 424.2 L326.8 417.2 L327.2 418.1 L327.6 428.2 L328.0 435.5 L328.4 431.4 L328.8 437.4 L329.2 448.8 L329.6 437.2 L330.0 436.3 L330.4 459.9 L330.8 442.6 L331.2 423.6 L331.6 419.3 L332.0 424.7 L332.4 440.7 L332.8 448.9 L333.2 443.0 L333.6 450.6 L334.0 440.5" stroke="#ff0000" stroke-width="1.7" fill="none" stroke-linejoin="round"/>
<path d="M85.2 460.7 L85.6 460.7 L86.0 443.2 L86.4 437.8 L86.8 441.3 L87.2 452.5 L87.6 460.7 L88.0 460.7 L88.4 460.7 L88.8 460.7 L89.2 460.0 L89.6 460.0 L90.0 460.7 L90.4 460.7 L90.8 460.4 L91.2 460.7 L91.6 460.7 L92.0 439.5 L92.4 432.6 L92.8 435.8 L93.2 451.9 L93.6 460.7 L94.0 458.4 L94.4 455.2 L94.8 460.7 L95.2 460.7 L95.6 455.6 L96.0 448.7 L96.4 445.2 L96.8 448.2 L97.2 460.7 L97.6 460.7 L98.0 460.7 L98.4 460.7 L98.8 460.7 L99.2 458.4 L99.6 455.9 L100.0 460.0 L100.4 460.7 L100.8 460.7 L101.2 446.3 L101.6 436.5 L102.0 435.4 L102.4 441.8 L102.8 453.8 L103.2 460.7 L103.6 460.7 L104.0 459.6 L104.4 448.1 L104.8 448.4 L105.2 459.8 L105.6 457.4 L106.0 447.6 L106.4 450.3 L106.8 460.7 L107.2 460.7 L107.6 453.2 L108.0 451.1 L108.4 458.9 L108.8 460.7 L109.2 460.7 L109.6 438.7 L110.0 429.0 L110.4 426.0 L110.8 427.0 L111.2 429.1 L111.6 430.2 L112.0 433.1 L112.4 442.5 L112.8 460.7 L113.2 460.7 L113.6 446.5 L114.0 445.8 L114.4 459.0 L114.8 460.7 L115.2 460.7 L115.6 460.7 L116.0 460.7 L116.4 460.7 L116.8 460.7 L117.2 460.7 L117.6 451.6 L118.0 442.1 L118.4 437.0 L118.8 435.0 L119.2 436.0 L119.6 440.7 L120.0 446.7 L120.4 446.7 L120.8 445.6 L121.2 449.1 L121.6 453.5 L122.0 455.4 L122.4 460.7 L122.8 460.7 L123.2 460.7 L123.6 454.2 L124.0 450.9 L124.4 452.3 L124.8 460.7 L125.2 460.7 L125.6 447.1 L126.0 438.1 L126.4 440.3 L126.8 453.5 L127.2 460.7 L127.6 459.2 L128.0 460.7 L128.4 460.7 L128.8 455.7 L129.2 448.7 L129.6 451.1 L130.0 456.9 L130.4 460.7 L130.8 460.2 L131.2 451.2 L131.6 445.6 L132.0 446.3 L132.4 451.7 L132.8 460.7 L133.2 460.7 L133.6 460.7 L134.0 452.1 L134.4 448.1 L134.8 457.1 L135.2 460.7 L135.6 460.5 L136.0 455.2 L136.4 460.7 L136.8 460.7 L137.2 460.7 L137.6 457.1 L138.0 459.2 L138.4 460.7 L138.8 460.7 L139.2 460.7 L139.6 460.7 L140.0 453.7 L140.4 453.6 L140.8 460.4 L141.2 451.1 L141.6 438.3 L142.0 433.2 L142.4 435.1 L142.8 442.8 L143.2 452.8 L143.6 458.7 L144.0 460.7 L144.4 460.7 L144.8 460.7 L145.2 452.6 L145.6 440.2 L146.0 434.0 L146.4 433.8 L146.8 437.9 L147.2 441.2 L147.6 443.6 L148.0 453.9 L148.4 460.7 L148.8 450.6 L149.2 442.5 L149.6 446.3 L150.0 460.7 L150.4 460.7 L150.8 452.7 L151.2 447.9 L151.6 451.8 L152.0 460.7 L152.4 460.7 L152.8 445.3 L153.2 437.1 L153.6 434.4 L154.0 433.5 L154.4 434.1 L154.8 438.9 L155.2 451.4 L155.6 460.7 L156.0 460.7 L156.4 460.7 L156.8 460.7 L157.2 459.4 L157.6 458.3 L158.0 460.7 L158.4 460.7 L158.8 460.7 L159.2 456.2 L159.6 450.0 L160.0 455.1 L160.4 454.9 L160.8 457.7 L161.2 460.7 L161.6 460.7 L162.0 460.7 L162.4 460.7 L162.8 460.7 L163.2 460.7 L163.6 460.7 L164.0 460.7 L164.4 460.7 L164.8 460.7 L165.2 460.7 L165.6 460.7 L166.0 460.7 L166.4 460.7 L166.8 460.7 L167.2 453.3 L167.6 445.8 L168.0 444.2 L168.4 447.0 L168.8 453.7 L169.2 460.7 L169.6 460.7 L170.0 460.7 L170.4 460.7 L170.8 459.6 L171.2 457.2 L171.6 456.8 L172.0 460.7 L172.4 460.7 L172.8 460.7 L173.2 456.5 L173.6 455.4 L174.0 460.7 L174.4 460.7 L174.8 460.7 L175.2 460.7 L175.6 460.7 L176.0 457.2 L176.4 460.7 L176.8 460.7 L177.2 460.7 L177.6 460.7 L178.0 460.7 L178.4 460.7 L178.8 460.7 L179.2 456.4 L179.6 460.7 L180.0 460.7 L180.4 460.7 L180.8 449.2 L181.2 444.6 L181.6 446.6 L182.0 453.6 L182.4 460.7 L182.8 460.7 L183.2 459.2 L183.6 451.8 L184.0 449.3 L184.4 451.5 L184.8 456.7 L185.2 456.3 L185.6 449.5 L186.0 446.7 L186.4 451.8 L186.8 460.7 L187.2 456.2 L187.6 444.2 L188.0 443.4 L188.4 455.5 L188.8 460.7 L189.2 454.4 L189.6 445.0 L190.0 448.9 L190.4 460.7 L190.8 460.7 L191.2 443.0 L191.6 435.1 L192.0 434.0 L192.4 438.2 L192.8 448.1 L193.2 460.7 L193.6 460.7 L194.0 460.7 L194.4 460.7 L194.8 460.7 L195.2 453.0 L195.6 447.6 L196.0 449.4 L196.4 460.7 L196.8 460.7 L197.2 448.0 L197.6 436.9 L198.0 436.6 L198.4 448.0 L198.8 460.7 L199.2 454.0 L199.6 443.0 L200.0 440.5 L200.4 435.3 L200.8 428.8 L201.2 426.1 L201.6 427.7 L202.0 432.2 L202.4 435.0 L202.8 432.3 L203.2 429.3 L203.6 429.6 L204.0 430.9 L204.4 427.1 L204.8 422.5 L205.2 423.2 L205.6 431.6 L206.0 450.1 L206.4 452.7 L206.8 445.5 L207.2 450.1 L207.6 460.7 L208.0 460.7 L208.4 450.8 L208.8 437.0 L209.2 431.2 L209.6 431.7 L210.0 439.1 L210.4 459.7 L210.8 460.7 L211.2 443.2 L211.6 434.5 L212.0 434.8 L212.4 440.0 L212.8 439.7 L213.2 434.9 L213.6 435.1 L214.0 443.1 L214.4 460.7 L214.8 460.7 L215.2 460.7 L215.6 455.1 L216.0 446.9 L216.4 441.1 L216.8 439.7 L217.2 445.0 L217.6 460.7 L218.0 460.7 L218.4 443.3 L218.8 432.9 L219.2 430.1 L219.6 435.0 L220.0 451.9 L220.4 458.6 L220.8 442.1 L221.2 439.3 L221.6 440.7 L222.0 436.7 L222.4 432.5 L222.8 431.0 L223.2 431.0 L223.6 435.4 L224.0 439.2 L224.4 424.5 L224.8 414.4 L225.2 412.9 L225.6 420.0 L226.0 433.4 L226.4 431.8 L226.8 426.8 L227.2 428.1 L227.6 431.3 L228.0 433.1 L228.4 428.7 L228.8 421.2 L229.2 420.2 L229.6 430.7 L230.0 433.4 L230.4 423.1 L230.8 416.4 L231.2 421.3 L231.6 423.6 L232.0 425.0 L232.4 424.0 L232.8 423.6 L233.2 428.4 L233.6 432.2 L234.0 429.0 L234.4 422.6 L234.8 417.4 L235.2 415.2 L235.6 417.5 L236.0 414.0 L236.4 407.1 L236.8 401.0 L237.2 396.6 L237.6 398.5 L238.0 398.7 L238.4 400.3 L238.8 403.6 L239.2 408.8 L239.6 416.5 L240.0 427.2 L240.4 428.5 L240.8 424.6 L241.2 417.6 L241.6 400.5 L242.0 384.6 L242.4 369.8 L242.8 356.2 L243.2 343.8 L243.6 332.5 L244.0 322.4 L244.4 313.4 L244.8 305.6 L245.2 298.9 L245.6 293.5 L246.0 289.1 L246.4 285.9 L246.8 283.9 L247.2 283.0 L247.6 283.3 L248.0 284.8 L248.4 287.4 L248.8 291.1 L249.2 296.1 L249.6 302.1 L250.0 309.4 L250.4 317.8 L250.8 327.3 L251.2 338.0 L251.6 349.9 L252.0 362.9 L252.4 377.1 L252.8 392.4 L253.2 408.9 L253.6 426.5 L254.0 442.5 L254.4 424.8 L254.8 413.8 L255.2 406.4 L255.6 401.4 L256.0 398.3 L256.4 396.8 L256.8 396.8 L257.2 398.2 L257.6 401.2 L258.0 406.0 L258.4 410.6 L258.8 417.9 L259.2 425.3 L259.6 429.1 L260.0 428.8 L260.4 422.6 L260.8 413.3 L261.2 408.4 L261.6 410.4 L262.0 417.1 L262.4 414.0 L262.8 407.0 L263.2 407.2 L263.6 415.2 L264.0 424.8 L264.4 420.1 L264.8 415.6 L265.2 415.9 L265.6 419.2 L266.0 421.6 L266.4 419.6 L266.8 419.7 L267.2 429.9 L267.6 460.7 L268.0 429.6 L268.4 417.0 L268.8 415.0 L269.2 417.1 L269.6 419.9 L270.0 424.3 L270.4 430.2 L270.8 427.5 L271.2 419.5 L271.6 414.6 L272.0 413.0 L272.4 413.1 L272.8 413.2 L273.2 414.4 L273.6 420.0 L274.0 435.2 L274.4 460.7 L274.8 444.9 L275.2 438.8 L275.6 435.0 L276.0 431.7 L276.4 435.3 L276.8 440.3 L277.2 433.0 L277.6 430.2 L278.0 434.8 L278.4 434.0 L278.8 429.9 L279.2 433.4 L279.6 432.2 L280.0 421.6 L280.4 417.7 L280.8 419.6 L281.2 421.1 L281.6 422.4 L282.0 433.4 L282.4 460.7 L282.8 432.0 L283.2 424.5 L283.6 427.0 L284.0 421.3 L284.4 411.9 L284.8 409.1 L285.2 413.9 L285.6 429.0 L286.0 442.0 L286.4 423.0 L286.8 416.7 L287.2 421.0 L287.6 438.0 L288.0 436.6 L288.4 424.5 L288.8 426.4 L289.2 440.8 L289.6 441.3 L290.0 430.8 L290.4 429.4 L290.8 430.9 L291.2 432.9 L291.6 439.6 L292.0 440.3 L292.4 431.1 L292.8 430.0 L293.2 441.4 L293.6 460.7 L294.0 451.9 L294.4 449.5 L294.8 460.7 L295.2 445.2 L295.6 432.2 L296.0 430.2 L296.4 437.4 L296.8 456.3 L297.2 459.8 L297.6 448.9 L298.0 446.2 L298.4 440.6 L298.8 434.8 L299.2 434.6 L299.6 438.9 L300.0 442.2 L300.4 445.8 L300.8 458.5 L301.2 460.7 L301.6 460.7 L302.0 452.7 L302.4 429.5 L302.8 418.4 L303.2 415.4 L303.6 419.0 L304.0 428.0 L304.4 438.3 L304.8 440.1 L305.2 435.1 L305.6 435.1 L306.0 450.7 L306.4 445.9 L306.8 422.0 L307.2 413.9 L307.6 414.3 L308.0 421.1 L308.4 431.4 L308.8 443.5 L309.2 460.7 L309.6 445.9 L310.0 436.5 L310.4 442.6 L310.8 460.7 L311.2 442.1 L311.6 427.4 L312.0 421.3 L312.4 418.6 L312.8 419.2 L313.2 425.1 L313.6 440.6 L314.0 460.7 L314.4 449.3 L314.8 440.1 L315.2 437.3 L315.6 436.2 L316.0 436.1 L316.4 436.7 L316.8 437.8 L317.2 439.6 L317.6 442.5 L318.0 445.0 L318.4 440.7 L318.8 432.1 L319.2 427.3 L319.6 428.6 L320.0 438.3 L320.4 460.7 L320.8 452.1 L321.2 433.3 L321.6 424.9 L322.0 421.0 L322.4 420.4 L322.8 422.8 L323.2 427.0 L323.6 429.1 L324.0 426.9 L324.4 425.1 L324.8 427.1 L325.2 432.9 L325.6 437.4 L326.0 434.6 L326.4 430.0 L326.8 428.6 L327.2 433.0 L327.6 446.6 L328.0 458.4 L328.4 444.7 L328.8 443.6 L329.2 454.9 L329.6 449.1 L330.0 436.6 L330.4 434.1 L330.8 438.9 L331.2 448.8 L331.6 460.7 L332.0 459.3 L332.4 441.8 L332.8 435.2 L333.2 438.6 L333.6 456.5 L334.0 460.7" stroke="#00ff00" stroke-width="1.7" fill="none" stroke-linejoin="round"/>
<path d="M85.2 460.7 L85.6 460.7 L86.0 460.7 L86.4 460.7 L86.8 460.7 L87.2 460.7 L87.6 460.7 L88.0 460.7 L88.4 460.7 L88.8 460.7 L89.2 460.7 L89.6 456.3 L90.0 460.1 L90.4 460.7 L90.8 460.7 L91.2 454.7 L91.6 457.7 L92.0 460.7 L92.4 460.7 L92.8 460.7 L93.2 460.7 L93.6 460.7 L94.0 458.1 L94.4 460.7 L94.8 460.7 L95.2 458.4 L95.6 450.9 L96.0 455.4 L96.4 460.7 L96.8 460.7 L97.2 460.7 L97.6 460.7 L98.0 460.7 L98.4 460.7 L98.8 460.7 L99.2 460.7 L99.6 460.7 L100.0 460.7 L100.4 453.9 L100.8 453.3 L101.2 460.7 L101.6 460.7 L102.0 460.7 L102.4 460.7 L102.8 460.7 L103.2 460.7 L103.6 460.7 L104.0 460.7 L104.4 455.0 L104.8 450.7 L105.2 453.5 L105.6 460.7 L106.0 460.7 L106.4 460.7 L106.8 460.7 L107.2 460.7 L107.6 456.5 L108.0 448.8 L108.4 450.5 L108.8 460.7 L109.2 460.7 L109.6 460.7 L110.0 456.8 L110.4 456.4 L110.8 460.7 L111.2 460.7 L111.6 460.7 L112.0 460.7 L112.4 460.7 L112.8 460.7 L113.2 460.7 L113.6 460.7 L114.0 460.7 L114.4 460.7 L114.8 460.7 L115.2 460.7 L115.6 460.7 L116.0 460.7 L116.4 456.3 L116.8 459.3 L117.2 460.7 L117.6 460.7 L118.0 460.7 L118.4 460.7 L118.8 460.7 L119.2 459.0 L119.6 456.1 L120.0 460.7 L120.4 460.7 L120.8 454.7 L121.2 454.5 L121.6 460.7 L122.0 460.7 L122.4 460.7 L122.8 460.7 L123.2 460.7 L123.6 460.7 L124.0 460.7 L124.4 460.7 L124.8 460.7 L125.2 460.7 L125.6 460.7 L126.0 460.7 L126.4 456.8 L126.8 460.7 L127.2 460.7 L127.6 457.6 L128.0 454.4 L128.4 460.7 L128.8 460.7 L129.2 454.2 L129.6 457.7 L130.0 460.7 L130.4 460.7 L130.8 460.7 L131.2 460.7 L131.6 460.7 L132.0 453.5 L132.4 454.7 L132.8 460.7 L133.2 460.7 L133.6 460.7 L134.0 460.7 L134.4 460.7 L134.8 460.6 L135.2 457.5 L135.6 460.7 L136.0 460.7 L136.4 460.7 L136.8 460.7 L137.2 460.7 L137.6 460.7 L138.0 460.7 L138.4 460.7 L138.8 460.7 L139.2 460.7 L139.6 460.7 L140.0 460.7 L140.4 460.7 L140.8 460.7 L141.2 460.7 L141.6 460.7 L142.0 460.0 L142.4 460.7 L142.8 460.7 L143.2 460.7 L143.6 460.7 L144.0 460.7 L144.4 460.7 L144.8 460.7 L145.2 460.7 L145.6 460.7 L146.0 460.7 L146.4 460.7 L146.8 460.7 L147.2 459.9 L147.6 455.6 L148.0 459.9 L148.4 460.7 L148.8 460.7 L149.2 456.9 L149.6 460.7 L150.0 460.7 L150.4 460.7 L150.8 460.7 L151.2 460.7 L151.6 460.7 L152.0 460.7 L152.4 460.7 L152.8 460.7 L153.2 448.7 L153.6 447.2 L154.0 457.9 L154.4 460.7 L154.8 455.8 L155.2 449.3 L155.6 453.9 L156.0 460.7 L156.4 460.0 L156.8 456.7 L157.2 460.7 L157.6 460.7 L158.0 460.7 L158.4 458.7 L158.8 451.9 L159.2 453.7 L159.6 460.7 L160.0 460.1 L160.4 452.2 L160.8 451.6 L161.2 457.6 L161.6 458.4 L162.0 452.8 L162.4 452.4 L162.8 457.9 L163.2 460.7 L163.6 460.7 L164.0 460.7 L164.4 460.7 L164.8 460.7 L165.2 460.2 L165.6 460.7 L166.0 460.7 L166.4 460.0 L166.8 459.1 L167.2 457.1 L167.6 456.7 L168.0 460.7 L168.4 460.7 L168.8 460.7 L169.2 455.2 L169.6 457.9 L170.0 460.7 L170.4 460.7 L170.8 453.8 L171.2 444.9 L171.6 445.6 L172.0 456.1 L172.4 460.7 L172.8 460.7 L173.2 460.7 L173.6 451.7 L174.0 435.1 L174.4 429.7 L174.8 434.6 L175.2 456.3 L175.6 460.7 L176.0 448.4 L176.4 449.0 L176.8 453.8 L177.2 450.6 L177.6 456.6 L178.0 460.7 L178.4 445.8 L178.8 437.5 L179.2 441.6 L179.6 451.1 L180.0 444.6 L180.4 441.4 L180.8 446.4 L181.2 441.2 L181.6 432.4 L182.0 432.6 L182.4 444.4 L182.8 460.7 L183.2 460.7 L183.6 460.7 L184.0 460.7 L184.4 436.9 L184.8 427.6 L185.2 427.6 L185.6 436.2 L186.0 459.7 L186.4 460.7 L186.8 454.5 L187.2 453.7 L187.6 460.7 L188.0 460.7 L188.4 454.9 L188.8 450.7 L189.2 456.6 L189.6 460.7 L190.0 447.5 L190.4 437.2 L190.8 435.2 L191.2 440.8 L191.6 456.1 L192.0 460.7 L192.4 450.5 L192.8 445.8 L193.2 444.5 L193.6 439.3 L194.0 433.3 L194.4 431.1 L194.8 434.4 L195.2 441.9 L195.6 440.3 L196.0 430.4 L196.4 425.1 L196.8 426.3 L197.2 436.5 L197.6 460.7 L198.0 454.1 L198.4 439.6 L198.8 436.1 L199.2 431.9 L199.6 428.3 L200.0 431.6 L200.4 450.0 L200.8 460.7 L201.2 438.7 L201.6 433.8 L202.0 439.3 L202.4 456.3 L202.8 460.7 L203.2 442.9 L203.6 429.5 L204.0 427.5 L204.4 437.4 L204.8 451.0 L205.2 432.2 L205.6 426.1 L206.0 430.7 L206.4 438.0 L206.8 433.3 L207.2 432.3 L207.6 443.1 L208.0 460.7 L208.4 460.7 L208.8 460.7 L209.2 451.3 L209.6 432.0 L210.0 427.6 L210.4 434.8 L210.8 460.7 L211.2 447.6 L211.6 434.6 L212.0 434.6 L212.4 439.2 L212.8 437.3 L213.2 430.7 L213.6 425.2 L214.0 421.5 L214.4 421.1 L214.8 425.5 L215.2 434.1 L215.6 439.7 L216.0 442.7 L216.4 445.1 L216.8 431.3 L217.2 421.1 L217.6 419.3 L218.0 425.1 L218.4 425.6 L218.8 420.8 L219.2 417.8 L219.6 416.4 L220.0 416.5 L220.4 418.0 L220.8 421.1 L221.2 425.2 L221.6 414.8 L222.0 413.0 L222.4 419.1 L222.8 434.4 L223.2 437.9 L223.6 423.7 L224.0 417.5 L224.4 416.1 L224.8 411.1 L225.2 408.0 L225.6 406.5 L226.0 406.4 L226.4 407.8 L226.8 410.8 L227.2 415.6 L227.6 422.8 L228.0 426.5 L228.4 433.2 L228.8 445.3 L229.2 426.5 L229.6 408.9 L230.0 392.4 L230.4 377.1 L230.8 362.9 L231.2 349.9 L231.6 338.0 L232.0 327.3 L232.4 317.8 L232.8 309.4 L233.2 302.1 L233.6 296.1 L234.0 291.1 L234.4 287.4 L234.8 284.8 L235.2 283.3 L235.6 283.0 L236.0 283.9 L236.4 285.9 L236.8 289.1 L237.2 293.5 L237.6 298.9 L238.0 305.6 L238.4 313.4 L238.8 322.4 L239.2 332.5 L239.6 343.8 L240.0 356.2 L240.4 369.8 L240.8 384.6 L241.2 400.5 L241.6 417.6 L242.0 435.8 L242.4 423.1 L242.8 418.2 L243.2 409.6 L243.6 403.8 L244.0 400.0 L244.4 397.9 L244.8 397.3 L245.2 398.1 L245.6 400.4 L246.0 404.5 L246.4 407.2 L246.8 411.1 L247.2 433.9 L247.6 430.0 L248.0 414.3 L248.4 418.2 L248.8 435.9 L249.2 431.8 L249.6 428.7 L250.0 433.3 L250.4 422.0 L250.8 415.0 L251.2 418.1 L251.6 420.5 L252.0 416.4 L252.4 416.5 L252.8 427.4 L253.2 433.4 L253.6 442.3 L254.0 455.9 L254.4 436.4 L254.8 417.5 L255.2 411.5 L255.6 412.5 L256.0 416.3 L256.4 417.4 L256.8 414.8 L257.2 413.7 L257.6 417.9 L258.0 430.4 L258.4 457.9 L258.8 460.7 L259.2 460.7 L259.6 436.1 L260.0 428.0 L260.4 433.3 L260.8 450.5 L261.2 438.7 L261.6 434.5 L262.0 435.4 L262.4 422.6 L262.8 416.4 L263.2 422.9 L263.6 460.7 L264.0 431.8 L264.4 420.5 L264.8 427.2 L265.2 441.2 L265.6 422.9 L266.0 416.3 L266.4 421.0 L266.8 437.7 L267.2 460.7 L267.6 443.0 L268.0 432.3 L268.4 428.3 L268.8 430.1 L269.2 432.5 L269.6 429.3 L270.0 428.9 L270.4 439.3 L270.8 460.7 L271.2 440.1 L271.6 428.9 L272.0 428.8 L272.4 431.5 L272.8 423.9 L273.2 415.3 L273.6 413.3 L274.0 419.2 L274.4 438.0 L274.8 460.7 L275.2 445.5 L275.6 449.4 L276.0 460.7 L276.4 453.2 L276.8 443.2 L277.2 447.0 L277.6 460.7 L278.0 460.7 L278.4 448.3 L278.8 440.3 L279.2 440.9 L279.6 441.2 L280.0 434.0 L280.4 429.7 L280.8 432.2 L281.2 439.5 L281.6 445.2 L282.0 449.4 L282.4 456.2 L282.8 449.8 L283.2 442.0 L283.6 441.4 L284.0 446.5 L284.4 453.1 L284.8 454.0 L285.2 448.4 L285.6 441.4 L286.0 436.6 L286.4 436.1 L286.8 440.6 L287.2 441.5 L287.6 433.4 L288.0 429.6 L288.4 432.6 L288.8 435.8 L289.2 434.6 L289.6 441.3 L290.0 460.7 L290.4 440.8 L290.8 428.9 L291.2 431.6 L291.6 441.0 L292.0 437.8 L292.4 440.2 L292.8 460.7 L293.2 437.3 L293.6 424.8 L294.0 427.3 L294.4 434.7 L294.8 424.3 L295.2 418.6 L295.6 424.1 L296.0 446.6 L296.4 458.2 L296.8 443.7 L297.2 453.1 L297.6 460.7 L298.0 454.1 L298.4 460.7 L298.8 460.7 L299.2 446.7 L299.6 447.5 L300.0 449.0 L300.4 437.1 L300.8 432.0 L301.2 435.2 L301.6 443.1 L302.0 448.7 L302.4 446.3 L302.8 440.2 L303.2 440.7 L303.6 451.9 L304.0 441.3 L304.4 427.1 L304.8 424.0 L305.2 429.5 L305.6 440.2 L306.0 449.1 L306.4 460.7 L306.8 453.8 L307.2 433.4 L307.6 430.4 L308.0 439.9 L308.4 449.3 L308.8 438.1 L309.2 438.5 L309.6 451.2 L310.0 439.7 L310.4 428.1 L310.8 426.5 L311.2 430.2 L311.6 431.8 L312.0 430.3 L312.4 432.2 L312.8 440.0 L313.2 454.9 L313.6 460.7 L314.0 460.7 L314.4 460.7 L314.8 460.7 L315.2 451.0 L315.6 442.8 L316.0 440.6 L316.4 445.6 L316.8 460.7 L317.2 460.7 L317.6 458.1 L318.0 453.8 L318.4 455.7 L318.8 458.4 L319.2 457.1 L319.6 450.5 L320.0 444.7 L320.4 444.0 L320.8 449.3 L321.2 460.7 L321.6 460.7 L322.0 460.7 L322.4 460.7 L322.8 457.5 L323.2 460.7 L323.6 460.7 L324.0 460.7 L324.4 460.7 L324.8 460.7 L325.2 460.7 L325.6 449.6 L326.0 449.2 L326.4 454.5 L326.8 447.4 L327.2 437.8 L327.6 432.4 L328.0 431.1 L328.4 436.0 L328.8 455.3 L329.2 460.7 L329.6 445.2 L330.0 444.3 L330.4 452.2 L330.8 443.5 L331.2 437.8 L331.6 446.1 L332.0 460.7 L332.4 446.0 L332.8 437.8 L333.2 439.2 L333.6 439.9 L334.0 439.8" stroke="#0000ff" stroke-width="1.7" fill="none" stroke-linejoin="round"/>
<path d="M85.2 460.7 L85.6 459.6 L86.0 460.6 L86.4 457.5 L86.8 453.5 L87.2 453.2 L87.6 456.3 L88.0 460.1 L88.4 460.7 L88.8 460.7 L89.2 460.7 L89.6 460.7 L90.0 460.7 L90.4 460.7 L90.8 460.7 L91.2 460.7 L91.6 460.7 L92.0 460.7 L92.4 458.7 L92.8 451.8 L93.2 450.3 L93.6 456.2 L94.0 460.7 L94.4 460.7 L94.8 460.7 L95.2 460.7 L95.6 460.7 L96.0 460.7 L96.4 458.1 L96.8 451.4 L97.2 452.6 L97.6 460.7 L98.0 460.7 L98.4 460.7 L98.8 460.7 L99.2 460.7 L99.6 460.7 L100.0 460.7 L100.4 460.7 L100.8 460.7 L101.2 460.7 L101.6 460.7 L102.0 460.7 L102.4 460.7 L102.8 460.7 L103.2 460.7 L103.6 460.7 L104.0 460.7 L104.4 460.7 L104.8 460.7 L105.2 460.7 L105.6 460.7 L106.0 460.7 L106.4 460.7 L106.8 460.7 L107.2 460.7 L107.6 460.7 L108.0 460.7 L108.4 460.7 L108.8 460.7 L109.2 460.7 L109.6 460.7 L110.0 460.7 L110.4 460.7 L110.8 460.7 L111.2 460.7 L111.6 460.7 L112.0 460.7 L112.4 460.7 L112.8 460.7 L113.2 459.9 L113.6 460.7 L114.0 460.7 L114.4 460.7 L114.8 460.7 L115.2 460.7 L115.6 460.7 L116.0 460.7 L116.4 460.7 L116.8 460.7 L117.2 460.7 L117.6 460.7 L118.0 458.9 L118.4 457.2 L118.8 460.7 L119.2 460.7 L119.6 460.7 L120.0 460.7 L120.4 460.7 L120.8 460.7 L121.2 450.9 L121.6 449.5 L122.0 455.6 L122.4 460.7 L122.8 460.7 L123.2 460.7 L123.6 460.7 L124.0 460.7 L124.4 460.7 L124.8 460.7 L125.2 460.7 L125.6 460.7 L126.0 460.7 L126.4 460.7 L126.8 460.7 L127.2 460.7 L127.6 459.1 L128.0 460.7 L128.4 460.7 L128.8 460.7 L129.2 460.7 L129.6 460.7 L130.0 460.7 L130.4 460.4 L130.8 452.7 L131.2 449.2 L131.6 449.4 L132.0 453.5 L132.4 460.7 L132.8 460.7 L133.2 460.7 L133.6 460.7 L134.0 460.7 L134.4 460.7 L134.8 460.7 L135.2 460.7 L135.6 460.7 L136.0 460.7 L136.4 460.7 L136.8 460.7 L137.2 460.7 L137.6 460.7 L138.0 460.7 L138.4 460.7 L138.8 460.7 L139.2 460.7 L139.6 460.7 L140.0 460.7 L140.4 458.4 L140.8 453.7 L141.2 456.3 L141.6 460.7 L142.0 460.7 L142.4 460.7 L142.8 460.7 L143.2 460.7 L143.6 460.7 L144.0 460.7 L144.4 457.0 L144.8 456.0 L145.2 458.3 L145.6 460.7 L146.0 460.7 L146.4 460.7 L146.8 452.6 L147.2 444.4 L147.6 442.5 L148.0 447.3 L148.4 460.7 L148.8 460.7 L149.2 451.9 L149.6 443.9 L150.0 444.0 L150.4 451.6 L150.8 460.7 L151.2 460.7 L151.6 460.7 L152.0 460.7 L152.4 460.7 L152.8 456.5 L153.2 454.4 L153.6 458.0 L154.0 460.7 L154.4 460.7 L154.8 460.7 L155.2 460.7 L155.6 460.7 L156.0 460.7 L156.4 460.7 L156.8 457.7 L157.2 447.4 L157.6 451.3 L158.0 460.7 L158.4 452.8 L158.8 435.5 L159.2 432.2 L159.6 440.0 L160.0 460.7 L160.4 460.7 L160.8 451.8 L161.2 460.7 L161.6 460.1 L162.0 443.4 L162.4 442.3 L162.8 460.7 L163.2 460.7 L163.6 438.4 L164.0 432.4 L164.4 433.2 L164.8 432.3 L165.2 429.4 L165.6 431.7 L166.0 444.7 L166.4 460.7 L166.8 448.1 L167.2 445.3 L167.6 460.7 L168.0 460.7 L168.4 454.3 L168.8 455.6 L169.2 460.7 L169.6 459.7 L170.0 443.0 L170.4 436.4 L170.8 431.9 L171.2 429.5 L171.6 432.7 L172.0 446.9 L172.4 457.3 L172.8 437.4 L173.2 431.7 L173.6 436.6 L174.0 454.8 L174.4 460.7 L174.8 460.7 L175.2 460.7 L175.6 453.8 L176.0 438.3 L176.4 432.9 L176.8 435.3 L177.2 445.3 L177.6 460.7 L178.0 460.7 L178.4 460.7 L178.8 460.7 L179.2 449.0 L179.6 440.1 L180.0 436.2 L180.4 435.7 L180.8 438.1 L181.2 440.6 L181.6 436.6 L182.0 430.3 L182.4 428.0 L182.8 431.8 L183.2 443.3 L183.6 456.8 L184.0 451.3 L184.4 450.3 L184.8 451.9 L185.2 441.4 L185.6 433.7 L186.0 434.5 L186.4 446.9 L186.8 460.7 L187.2 446.8 L187.6 435.2 L188.0 433.8 L188.4 438.7 L188.8 449.3 L189.2 460.7 L189.6 460.7 L190.0 456.6 L190.4 446.4 L190.8 440.9 L191.2 436.0 L191.6 433.4 L192.0 437.4 L192.4 456.3 L192.8 459.1 L193.2 435.2 L193.6 429.3 L194.0 433.2 L194.4 438.7 L194.8 431.1 L195.2 425.7 L195.6 428.5 L196.0 438.7 L196.4 441.2 L196.8 435.9 L197.2 440.7 L197.6 460.7 L198.0 455.9 L198.4 439.4 L198.8 438.0 L199.2 442.8 L199.6 446.3 L200.0 449.9 L200.4 454.7 L200.8 448.7 L201.2 443.6 L201.6 441.4 L202.0 433.0 L202.4 424.9 L202.8 422.2 L203.2 422.0 L203.6 417.8 L204.0 412.9 L204.4 413.0 L204.8 421.2 L205.2 441.1 L205.6 441.4 L206.0 432.3 L206.4 438.3 L206.8 432.7 L207.2 429.0 L207.6 426.9 L208.0 426.4 L208.4 427.2 L208.8 420.3 L209.2 419.6 L209.6 429.3 L210.0 449.3 L210.4 436.4 L210.8 424.7 L211.2 426.5 L211.6 432.8 L212.0 420.4 L212.4 409.8 L212.8 407.6 L213.2 406.2 L213.6 403.5 L214.0 402.5 L214.4 402.9 L214.8 404.7 L215.2 408.2 L215.6 413.7 L216.0 421.7 L216.4 433.9 L216.8 434.2 L217.2 412.2 L217.6 400.5 L218.0 384.6 L218.4 369.8 L218.8 356.2 L219.2 343.8 L219.6 332.5 L220.0 322.4 L220.4 313.4 L220.8 305.6 L221.2 298.9 L221.6 293.5 L222.0 289.1 L222.4 285.9 L222.8 283.9 L223.2 283.0 L223.6 283.3 L224.0 284.8 L224.4 287.4 L224.8 291.1 L225.2 296.1 L225.6 302.1 L226.0 309.4 L226.4 317.8 L226.8 327.3 L227.2 338.0 L227.6 349.9 L228.0 362.9 L228.4 377.1 L228.8 392.4 L229.2 408.9 L229.6 426.5 L230.0 434.6 L230.4 425.6 L230.8 424.6 L231.2 421.7 L231.6 413.8 L232.0 408.5 L232.4 405.1 L232.8 403.3 L233.2 403.1 L233.6 404.2 L234.0 406.9 L234.4 411.4 L234.8 418.2 L235.2 428.2 L235.6 429.2 L236.0 424.1 L236.4 427.9 L236.8 442.2 L237.2 445.5 L237.6 429.1 L238.0 415.3 L238.4 410.4 L238.8 412.6 L239.2 422.1 L239.6 423.6 L240.0 420.4 L240.4 416.2 L240.8 419.7 L241.2 429.2 L241.6 436.0 L242.0 434.5 L242.4 432.7 L242.8 431.0 L243.2 433.7 L243.6 453.0 L244.0 444.4 L244.4 421.8 L244.8 415.1 L245.2 417.5 L245.6 425.5 L246.0 425.8 L246.4 422.9 L246.8 431.1 L247.2 460.7 L247.6 433.2 L248.0 422.5 L248.4 426.9 L248.8 442.2 L249.2 430.4 L249.6 422.6 L250.0 428.9 L250.4 460.7 L250.8 438.3 L251.2 424.9 L251.6 426.9 L252.0 437.7 L252.4 435.1 L252.8 428.2 L253.2 429.7 L253.6 433.6 L254.0 431.3 L254.4 431.7 L254.8 443.5 L255.2 452.9 L255.6 432.2 L256.0 423.9 L256.4 421.9 L256.8 421.3 L257.2 420.8 L257.6 422.9 L258.0 428.8 L258.4 434.1 L258.8 433.6 L259.2 436.2 L259.6 449.7 L260.0 458.8 L260.4 444.5 L260.8 447.2 L261.2 460.7 L261.6 443.9 L262.0 429.1 L262.4 427.1 L262.8 429.8 L263.2 424.5 L263.6 417.4 L264.0 417.1 L264.4 426.6 L264.8 458.4 L265.2 444.3 L265.6 432.5 L266.0 436.3 L266.4 439.7 L266.8 431.2 L267.2 430.2 L267.6 445.5 L268.0 460.7 L268.4 429.9 L268.8 422.1 L269.2 424.5 L269.6 436.1 L270.0 455.2 L270.4 460.2 L270.8 460.7 L271.2 459.7 L271.6 438.1 L272.0 430.5 L272.4 430.5 L272.8 435.4 L273.2 439.5 L273.6 438.7 L274.0 439.9 L274.4 449.2 L274.8 460.7 L275.2 450.4 L275.6 438.0 L276.0 434.7 L276.4 436.6 L276.8 440.8 L277.2 445.8 L277.6 454.5 L278.0 458.2 L278.4 444.6 L278.8 436.0 L279.2 433.8 L279.6 434.5 L280.0 433.7 L280.4 432.9 L280.8 438.3 L281.2 460.7 L281.6 451.1 L282.0 429.1 L282.4 422.2 L282.8 423.9 L283.2 435.0 L283.6 458.3 L284.0 446.4 L284.4 438.0 L284.8 439.9 L285.2 443.3 L285.6 439.0 L286.0 435.7 L286.4 438.3 L286.8 448.6 L287.2 460.7 L287.6 460.7 L288.0 454.9 L288.4 450.3 L288.8 459.6 L289.2 460.7 L289.6 450.0 L290.0 437.0 L290.4 434.5 L290.8 438.8 L291.2 444.5 L291.6 442.0 L292.0 438.5 L292.4 439.2 L292.8 442.4 L293.2 445.1 L293.6 447.8 L294.0 452.3 L294.4 455.5 L294.8 454.6 L295.2 456.6 L295.6 460.7 L296.0 460.7 L296.4 460.7 L296.8 460.7 L297.2 460.7 L297.6 457.5 L298.0 445.3 L298.4 441.4 L298.8 445.8 L299.2 460.7 L299.6 460.7 L300.0 460.7 L300.4 460.7 L300.8 458.3 L301.2 443.3 L301.6 438.4 L302.0 442.6 L302.4 460.3 L302.8 460.7 L303.2 454.5 L303.6 449.5 L304.0 452.8 L304.4 457.8 L304.8 460.7 L305.2 460.7 L305.6 460.7 L306.0 449.0 L306.4 435.4 L306.8 430.5 L307.2 432.3 L307.6 440.1 L308.0 444.9 L308.4 440.2 L308.8 442.1 L309.2 460.7 L309.6 458.5 L310.0 435.8 L310.4 431.2 L310.8 438.2 L311.2 460.7 L311.6 460.7 L312.0 449.6 L312.4 458.4 L312.8 460.7 L313.2 445.4 L313.6 440.1 L314.0 444.6 L314.4 448.1 L314.8 442.1 L315.2 440.8 L315.6 448.5 L316.0 460.7 L316.4 460.7 L316.8 460.7 L317.2 460.7 L317.6 460.7 L318.0 460.7 L318.4 460.7 L318.8 460.7 L319.2 448.7 L319.6 438.9 L320.0 433.3 L320.4 430.7 L320.8 432.6 L321.2 440.6 L321.6 449.4 L322.0 444.0 L322.4 442.4 L322.8 455.0 L323.2 460.7 L323.6 442.9 L324.0 436.3 L324.4 441.8 L324.8 460.7 L325.2 456.8 L325.6 445.2 L326.0 447.4 L326.4 460.7 L326.8 460.7 L327.2 460.7 L327.6 460.7 L328.0 460.7 L328.4 460.7 L328.8 460.7 L329.2 460.7 L329.6 445.3 L330.0 438.0 L330.4 438.2 L330.8 445.9 L331.2 460.7 L331.6 460.7 L332.0 460.7 L332.4 460.7 L332.8 460.7 L333.2 460.7 L333.6 460.7 L334.0 460.7" stroke="#00ffff" stroke-width="1.7" fill="none" stroke-linejoin="round"/>
<path d="M85.2 457.0 L85.6 460.1 L86.0 457.0 L86.4 453.7 L86.8 456.4 L87.2 460.7 L87.6 460.7 L88.0 460.7 L88.4 460.7 L88.8 460.7 L89.2 460.7 L89.6 460.7 L90.0 460.7 L90.4 460.7 L90.8 460.7 L91.2 460.7 L91.6 460.7 L92.0 460.7 L92.4 460.7 L92.8 460.7 L93.2 460.7 L93.6 460.7 L94.0 460.7 L94.4 460.7 L94.8 460.7 L95.2 460.7 L95.6 454.2 L96.0 455.4 L96.4 460.7 L96.8 458.1 L97.2 454.6 L97.6 460.7 L98.0 460.7 L98.4 460.7 L98.8 460.7 L99.2 460.7 L99.6 460.7 L100.0 460.7 L100.4 460.7 L100.8 460.7 L101.2 460.7 L101.6 460.7 L102.0 460.7 L102.4 460.7 L102.8 459.0 L103.2 460.7 L103.6 460.7 L104.0 455.6 L104.4 453.1 L104.8 458.5 L105.2 460.7 L105.6 460.7 L106.0 460.7 L106.4 460.7 L106.8 460.7 L107.2 460.7 L107.6 460.7 L108.0 451.8 L108.4 448.3 L108.8 455.5 L109.2 460.7 L109.6 460.7 L110.0 460.7 L110.4 460.7 L110.8 460.7 L111.2 460.7 L111.6 460.7 L112.0 460.7 L112.4 460.7 L112.8 460.7 L113.2 457.6 L113.6 458.3 L114.0 460.7 L114.4 460.7 L114.8 460.7 L115.2 460.7 L115.6 460.7 L116.0 460.7 L116.4 460.7 L116.8 460.7 L117.2 460.7 L117.6 460.7 L118.0 460.7 L118.4 454.0 L118.8 448.2 L119.2 449.4 L119.6 455.0 L120.0 455.4 L120.4 450.5 L120.8 448.4 L121.2 450.6 L121.6 459.0 L122.0 460.7 L122.4 460.7 L122.8 460.7 L123.2 460.7 L123.6 460.7 L124.0 460.7 L124.4 460.7 L124.8 460.7 L125.2 460.7 L125.6 460.7 L126.0 460.7 L126.4 457.0 L126.8 456.4 L127.2 460.7 L127.6 460.7 L128.0 460.7 L128.4 460.7 L128.8 448.5 L129.2 441.7 L129.6 442.9 L130.0 456.0 L130.4 460.7 L130.8 460.7 L131.2 460.7 L131.6 459.6 L132.0 445.3 L132.4 440.5 L132.8 447.8 L133.2 460.7 L133.6 450.6 L134.0 443.7 L134.4 450.2 L134.8 460.7 L135.2 460.7 L135.6 460.7 L136.0 460.7 L136.4 460.7 L136.8 460.7 L137.2 460.7 L137.6 460.7 L138.0 460.7 L138.4 453.2 L138.8 442.8 L139.2 441.0 L139.6 447.5 L140.0 460.7 L140.4 460.7 L140.8 456.3 L141.2 455.3 L141.6 460.7 L142.0 460.7 L142.4 460.7 L142.8 460.7 L143.2 460.7 L143.6 460.7 L144.0 460.7 L144.4 457.0 L144.8 450.7 L145.2 447.4 L145.6 445.4 L146.0 446.3 L146.4 451.2 L146.8 455.1 L147.2 452.2 L147.6 451.5 L148.0 460.6 L148.4 460.7 L148.8 459.4 L149.2 449.5 L149.6 450.1 L150.0 450.7 L150.4 443.9 L150.8 441.9 L151.2 448.3 L151.6 445.9 L152.0 434.2 L152.4 431.1 L152.8 438.4 L153.2 460.6 L153.6 460.7 L154.0 460.7 L154.4 460.7 L154.8 460.7 L155.2 451.5 L155.6 457.2 L156.0 454.6 L156.4 443.1 L156.8 443.0 L157.2 450.1 L157.6 441.9 L158.0 433.2 L158.4 432.7 L158.8 438.8 L159.2 447.7 L159.6 457.4 L160.0 460.7 L160.4 460.7 L160.8 454.8 L161.2 451.3 L161.6 450.1 L162.0 448.6 L162.4 450.1 L162.8 459.6 L163.2 460.7 L163.6 456.5 L164.0 438.9 L164.4 433.9 L164.8 439.3 L165.2 460.7 L165.6 459.1 L166.0 441.8 L166.4 441.0 L166.8 450.2 L167.2 460.7 L167.6 460.7 L168.0 452.0 L168.4 439.0 L168.8 433.0 L169.2 433.5 L169.6 437.9 L170.0 438.7 L170.4 434.7 L170.8 434.1 L171.2 441.1 L171.6 459.7 L172.0 460.7 L172.4 456.0 L172.8 445.9 L173.2 432.3 L173.6 423.9 L174.0 422.0 L174.4 425.6 L174.8 433.6 L175.2 447.1 L175.6 460.7 L176.0 446.8 L176.4 439.8 L176.8 444.3 L177.2 446.2 L177.6 438.2 L178.0 440.0 L178.4 447.2 L178.8 432.1 L179.2 423.1 L179.6 424.0 L180.0 432.2 L180.4 439.3 L180.8 441.3 L181.2 439.4 L181.6 429.5 L182.0 425.3 L182.4 430.4 L182.8 435.2 L183.2 426.4 L183.6 423.2 L184.0 429.7 L184.4 446.4 L184.8 460.7 L185.2 459.0 L185.6 435.4 L186.0 424.6 L186.4 424.5 L186.8 435.9 L187.2 457.7 L187.6 441.9 L188.0 436.4 L188.4 440.3 L188.8 450.9 L189.2 460.7 L189.6 452.6 L190.0 440.7 L190.4 440.1 L190.8 445.6 L191.2 451.5 L191.6 460.7 L192.0 447.8 L192.4 431.8 L192.8 424.5 L193.2 420.6 L193.6 416.9 L194.0 414.8 L194.4 414.2 L194.8 415.1 L195.2 417.5 L195.6 421.6 L196.0 424.6 L196.4 429.5 L196.8 435.1 L197.2 434.2 L197.6 426.8 L198.0 424.3 L198.4 427.2 L198.8 418.1 L199.2 411.9 L199.6 407.8 L200.0 405.5 L200.4 404.6 L200.8 405.3 L201.2 407.4 L201.6 411.1 L202.0 417.0 L202.4 425.6 L202.8 430.1 L203.2 414.1 L203.6 406.2 L204.0 406.6 L204.4 396.4 L204.8 380.8 L205.2 366.3 L205.6 353.0 L206.0 340.9 L206.4 329.9 L206.8 320.0 L207.2 311.4 L207.6 303.8 L208.0 297.5 L208.4 292.3 L208.8 288.2 L209.2 285.3 L209.6 283.6 L210.0 283.0 L210.4 283.6 L210.8 285.3 L211.2 288.2 L211.6 292.3 L212.0 297.5 L212.4 303.8 L212.8 311.4 L213.2 320.0 L213.6 329.9 L214.0 340.9 L214.4 353.0 L214.8 366.3 L215.2 380.8 L215.6 396.4 L216.0 413.2 L216.4 425.2 L216.8 415.5 L217.2 414.3 L217.6 421.7 L218.0 420.1 L218.4 410.7 L218.8 404.4 L219.2 400.2 L219.6 397.8 L220.0 396.8 L220.4 397.4 L220.8 399.4 L221.2 403.1 L221.6 408.8 L222.0 417.2 L222.4 428.9 L222.8 418.7 L223.2 417.7 L223.6 415.3 L224.0 412.2 L224.4 415.4 L224.8 422.7 L225.2 421.0 L225.6 419.0 L226.0 418.3 L226.4 420.9 L226.8 421.0 L227.2 423.3 L227.6 434.9 L228.0 446.5 L228.4 436.4 L228.8 437.9 L229.2 452.9 L229.6 455.0 L230.0 460.7 L230.4 455.7 L230.8 425.0 L231.2 414.4 L231.6 413.7 L232.0 422.3 L232.4 446.3 L232.8 460.7 L233.2 451.0 L233.6 460.7 L234.0 460.7 L234.4 460.7 L234.8 460.7 L235.2 446.4 L235.6 439.8 L236.0 444.1 L236.4 460.7 L236.8 460.7 L237.2 436.3 L237.6 421.5 L238.0 414.5 L238.4 414.5 L238.8 423.0 L239.2 448.4 L239.6 460.7 L240.0 441.9 L240.4 444.2 L240.8 445.5 L241.2 444.9 L241.6 460.7 L242.0 439.7 L242.4 418.7 L242.8 411.7 L243.2 413.7 L243.6 426.8 L244.0 460.7 L244.4 435.1 L244.8 423.6 L245.2 421.4 L245.6 422.6 L246.0 427.1 L246.4 437.0 L246.8 447.0 L247.2 446.4 L247.6 454.6 L248.0 460.7 L248.4 443.1 L248.8 439.2 L249.2 451.2 L249.6 453.4 L250.0 436.6 L250.4 433.8 L250.8 440.8 L251.2 446.9 L251.6 441.0 L252.0 436.8 L252.4 434.3 L252.8 432.9 L253.2 435.1 L253.6 441.0 L254.0 446.9 L254.4 449.5 L254.8 448.7 L255.2 448.4 L255.6 460.7 L256.0 460.7 L256.4 435.4 L256.8 425.9 L257.2 426.9 L257.6 438.3 L258.0 457.0 L258.4 445.1 L258.8 438.9 L259.2 439.4 L259.6 441.2 L260.0 442.1 L260.4 442.4 L260.8 444.1 L261.2 451.0 L261.6 460.7 L262.0 460.7 L262.4 460.7 L262.8 460.7 L263.2 441.3 L263.6 430.9 L264.0 427.4 L264.4 427.2 L264.8 430.5 L265.2 440.1 L265.6 447.5 L266.0 437.3 L266.4 436.1 L266.8 451.2 L267.2 448.8 L267.6 430.4 L268.0 426.7 L268.4 432.4 L268.8 440.3 L269.2 439.9 L269.6 442.5 L270.0 452.8 L270.4 454.9 L270.8 453.8 L271.2 460.7 L271.6 456.2 L272.0 446.2 L272.4 447.0 L272.8 455.4 L273.2 459.7 L273.6 458.1 L274.0 459.7 L274.4 460.7 L274.8 460.7 L275.2 460.7 L275.6 460.7 L276.0 454.5 L276.4 451.2 L276.8 446.2 L277.2 442.4 L277.6 443.6 L278.0 449.2 L278.4 454.6 L278.8 456.3 L279.2 457.5 L279.6 458.1 L280.0 456.8 L280.4 453.0 L280.8 447.9 L281.2 443.9 L281.6 441.7 L282.0 442.0 L282.4 447.4 L282.8 460.7 L283.2 460.7 L283.6 456.9 L284.0 460.7 L284.4 460.7 L284.8 452.6 L285.2 443.8 L285.6 444.9 L286.0 449.4 L286.4 446.4 L286.8 437.6 L287.2 428.8 L287.6 423.6 L288.0 423.9 L288.4 431.1 L288.8 447.3 L289.2 460.7 L289.6 460.7 L290.0 460.7 L290.4 453.9 L290.8 455.5 L291.2 460.7 L291.6 453.1 L292.0 439.7 L292.4 442.6 L292.8 460.7 L293.2 460.7 L293.6 445.0 L294.0 447.7 L294.4 460.7 L294.8 460.7 L295.2 460.7 L295.6 460.7 L296.0 460.7 L296.4 449.0 L296.8 450.0 L297.2 460.7 L297.6 460.7 L298.0 460.7 L298.4 460.7 L298.8 460.7 L299.2 460.7 L299.6 460.7 L300.0 460.7 L300.4 460.7 L300.8 460.7 L301.2 460.7 L301.6 460.7 L302.0 460.7 L302.4 460.7 L302.8 460.7 L303.2 460.7 L303.6 460.5 L304.0 460.7 L304.4 460.7 L304.8 460.7 L305.2 460.7 L305.6 460.7 L306.0 460.7 L306.4 460.7 L306.8 452.0 L307.2 447.4 L307.6 448.9 L308.0 456.3 L308.4 460.7 L308.8 460.7 L309.2 460.7 L309.6 460.7 L310.0 460.7 L310.4 460.7 L310.8 460.7 L311.2 460.7 L311.6 460.7 L312.0 460.7 L312.4 460.7 L312.8 460.7 L313.2 451.5 L313.6 450.4 L314.0 460.7 L314.4 460.7 L314.8 456.1 L315.2 452.2 L315.6 460.7 L316.0 460.7 L316.4 460.7 L316.8 460.7 L317.2 460.7 L317.6 456.4 L318.0 453.3 L318.4 460.7 L318.8 460.7 L319.2 460.2 L319.6 456.8 L320.0 460.7 L320.4 460.0 L320.8 456.5 L321.2 459.1 L321.6 460.7 L322.0 460.7 L322.4 460.7 L322.8 459.8 L323.2 451.3 L323.6 450.2 L324.0 457.9 L324.4 460.7 L324.8 460.7 L325.2 460.7 L325.6 460.7 L326.0 460.7 L326.4 457.5 L326.8 453.7 L327.2 457.0 L327.6 460.7 L328.0 460.7 L328.4 460.7 L328.8 460.7 L329.2 455.3 L329.6 450.7 L330.0 452.6 L330.4 460.6 L330.8 460.7 L331.2 460.7 L331.6 460.7 L332.0 460.7 L332.4 460.7 L332.8 460.7 L333.2 460.7 L333.6 460.7 L334.0 460.7" stroke="#ff00ff" stroke-width="1.7" fill="none" stroke-linejoin="round"/>
<path d="M85.2 441.1 L85.6 435.2 L86.0 436.2 L86.4 442.5 L86.8 445.4 L87.2 443.8 L87.6 444.4 L88.0 440.0 L88.4 431.9 L88.8 428.5 L89.2 431.1 L89.6 439.1 L90.0 449.5 L90.4 453.4 L90.8 448.7 L91.2 446.0 L91.6 451.2 L92.0 460.7 L92.4 456.9 L92.8 450.4 L93.2 457.0 L93.6 460.7 L94.0 460.7 L94.4 460.7 L94.8 460.7 L95.2 450.8 L95.6 443.6 L96.0 446.9 L96.4 458.9 L96.8 460.7 L97.2 460.7 L97.6 460.7 L98.0 460.7 L98.4 460.7 L98.8 460.1 L99.2 447.7 L99.6 450.3 L100.0 460.7 L100.4 458.8 L100.8 442.9 L101.2 444.2 L101.6 460.7 L102.0 460.7 L102.4 460.7 L102.8 460.7 L103.2 452.0 L103.6 441.5 L104.0 443.7 L104.4 460.1 L104.8 460.7 L105.2 460.7 L105.6 456.3 L106.0 442.8 L106.4 436.0 L106.8 437.1 L107.2 447.7 L107.6 460.7 L108.0 460.2 L108.4 446.4 L108.8 447.9 L109.2 460.7 L109.6 456.4 L110.0 439.2 L110.4 439.5 L110.8 456.6 L111.2 448.2 L111.6 434.1 L112.0 434.0 L112.4 442.3 L112.8 441.3 L113.2 436.4 L113.6 441.7 L114.0 460.7 L114.4 460.7 L114.8 460.7 L115.2 460.7 L115.6 441.3 L116.0 436.2 L116.4 441.6 L116.8 458.6 L117.2 460.7 L117.6 460.7 L118.0 460.7 L118.4 460.7 L118.8 453.1 L119.2 441.4 L119.6 433.8 L120.0 433.1 L120.4 439.9 L120.8 449.9 L121.2 451.8 L121.6 459.3 L122.0 460.7 L122.4 459.7 L122.8 457.7 L123.2 460.7 L123.6 460.7 L124.0 446.8 L124.4 451.2 L124.8 460.7 L125.2 457.4 L125.6 446.7 L126.0 450.7 L126.4 460.7 L126.8 460.7 L127.2 460.7 L127.6 460.7 L128.0 460.7 L128.4 460.7 L128.8 457.9 L129.2 447.2 L129.6 443.7 L130.0 444.0 L130.4 444.0 L130.8 444.3 L131.2 449.0 L131.6 460.7 L132.0 460.7 L132.4 460.7 L132.8 453.0 L133.2 447.9 L133.6 453.2 L134.0 460.7 L134.4 460.7 L134.8 440.8 L135.2 433.1 L135.6 431.6 L136.0 435.1 L136.4 444.3 L136.8 457.0 L137.2 455.9 L137.6 449.3 L138.0 446.8 L138.4 448.6 L138.8 459.3 L139.2 460.7 L139.6 456.1 L140.0 446.9 L140.4 455.0 L140.8 460.7 L141.2 442.8 L141.6 433.2 L142.0 435.3 L142.4 450.8 L142.8 460.7 L143.2 460.7 L143.6 460.7 L144.0 460.7 L144.4 451.6 L144.8 446.8 L145.2 454.9 L145.6 460.7 L146.0 460.7 L146.4 460.7 L146.8 460.7 L147.2 446.6 L147.6 441.9 L148.0 450.6 L148.4 460.7 L148.8 443.4 L149.2 431.3 L149.6 429.4 L150.0 435.5 L150.4 445.7 L150.8 441.1 L151.2 436.4 L151.6 442.1 L152.0 447.5 L152.4 432.8 L152.8 426.3 L153.2 431.5 L153.6 459.5 L154.0 444.3 L154.4 428.1 L154.8 428.6 L155.2 446.5 L155.6 455.9 L156.0 430.1 L156.4 424.7 L156.8 429.9 L157.2 446.7 L157.6 460.7 L158.0 460.7 L158.4 460.7 L158.8 449.9 L159.2 445.6 L159.6 453.1 L160.0 446.1 L160.4 434.2 L160.8 433.8 L161.2 446.7 L161.6 456.3 L162.0 443.8 L162.4 446.2 L162.8 445.6 L163.2 432.6 L163.6 429.9 L164.0 439.7 L164.4 443.3 L164.8 430.2 L165.2 429.3 L165.6 441.4 L166.0 441.5 L166.4 429.5 L166.8 430.9 L167.2 449.5 L167.6 440.6 L168.0 423.8 L168.4 419.3 L168.8 421.3 L169.2 424.8 L169.6 427.2 L170.0 431.9 L170.4 434.3 L170.8 426.8 L171.2 423.9 L171.6 430.9 L172.0 435.6 L172.4 424.3 L172.8 422.8 L173.2 438.3 L173.6 441.2 L174.0 420.3 L174.4 417.0 L174.8 426.3 L175.2 457.8 L175.6 460.0 L176.0 445.7 L176.4 437.9 L176.8 433.6 L177.2 443.2 L177.6 460.6 L178.0 434.2 L178.4 429.1 L178.8 426.0 L179.2 419.2 L179.6 411.5 L180.0 411.3 L180.4 414.7 L180.8 415.8 L181.2 418.4 L181.6 422.7 L182.0 415.4 L182.4 413.6 L182.8 421.7 L183.2 428.0 L183.6 420.8 L184.0 422.6 L184.4 433.9 L184.8 429.5 L185.2 427.6 L185.6 424.2 L186.0 414.7 L186.4 408.2 L186.8 404.0 L187.2 401.5 L187.6 400.6 L188.0 401.0 L188.4 403.0 L188.8 406.6 L189.2 408.0 L189.6 407.8 L190.0 420.7 L190.4 426.5 L190.8 408.9 L191.2 392.4 L191.6 377.1 L192.0 362.9 L192.4 349.9 L192.8 338.0 L193.2 327.3 L193.6 317.8 L194.0 309.4 L194.4 302.1 L194.8 296.1 L195.2 291.1 L195.6 287.4 L196.0 284.8 L196.4 283.3 L196.8 283.0 L197.2 283.9 L197.6 285.9 L198.0 289.1 L198.4 293.5 L198.8 298.9 L199.2 305.6 L199.6 313.4 L200.0 322.4 L200.4 332.5 L200.8 343.8 L201.2 356.2 L201.6 369.8 L202.0 384.6 L202.4 400.5 L202.8 417.6 L203.2 435.8 L203.6 438.5 L204.0 426.0 L204.4 417.7 L204.8 412.2 L205.2 408.6 L205.6 406.6 L206.0 406.2 L206.4 407.2 L206.8 409.7 L207.2 414.0 L207.6 420.4 L208.0 430.0 L208.4 430.1 L208.8 415.6 L209.2 409.9 L209.6 409.1 L210.0 411.9 L210.4 420.6 L210.8 438.2 L211.2 428.6 L211.6 422.1 L212.0 417.9 L212.4 415.3 L212.8 414.3 L213.2 414.8 L213.6 416.7 L214.0 420.3 L214.4 425.8 L214.8 434.0 L215.2 437.7 L215.6 441.7 L216.0 457.6 L216.4 437.7 L216.8 422.2 L217.2 417.3 L217.6 420.0 L218.0 431.1 L218.4 456.1 L218.8 452.5 L219.2 440.3 L219.6 441.6 L220.0 452.2 L220.4 457.0 L220.8 456.2 L221.2 443.6 L221.6 424.3 L222.0 414.0 L222.4 411.1 L222.8 413.6 L223.2 417.8 L223.6 419.9 L224.0 424.3 L224.4 439.2 L224.8 460.7 L225.2 439.7 L225.6 431.5 L226.0 431.7 L226.4 436.1 L226.8 444.5 L227.2 460.5 L227.6 460.7 L228.0 460.7 L228.4 457.4 L228.8 442.6 L229.2 436.4 L229.6 435.1 L230.0 434.6 L230.4 434.7 L230.8 439.2 L231.2 450.7 L231.6 460.7 L232.0 456.6 L232.4 451.3 L232.8 441.3 L233.2 432.9 L233.6 428.8 L234.0 428.1 L234.4 429.5 L234.8 433.9 L235.2 444.6 L235.6 460.7 L236.0 457.3 L236.4 445.8 L236.8 444.4 L237.2 449.6 L237.6 459.3 L238.0 460.7 L238.4 460.7 L238.8 460.7 L239.2 455.1 L239.6 450.5 L240.0 451.6 L240.4 456.4 L240.8 458.5 L241.2 456.0 L241.6 457.4 L242.0 460.7 L242.4 460.7 L242.8 460.7 L243.2 460.7 L243.6 460.7 L244.0 460.7 L244.4 460.7 L244.8 460.7 L245.2 444.5 L245.6 436.8 L246.0 437.9 L246.4 447.7 L246.8 460.7 L247.2 460.7 L247.6 460.7 L248.0 460.7 L248.4 460.7 L248.8 459.7 L249.2 448.0 L249.6 435.8 L250.0 432.0 L250.4 436.2 L250.8 442.2 L251.2 437.5 L251.6 434.4 L252.0 439.3 L252.4 452.3 L252.8 460.7 L253.2 460.7 L253.6 460.7 L254.0 460.7 L254.4 460.7 L254.8 460.7 L255.2 456.9 L255.6 456.4 L256.0 460.7 L256.4 460.7 L256.8 459.0 L257.2 460.7 L257.6 460.7 L258.0 452.8 L258.4 441.9 L258.8 437.7 L259.2 437.3 L259.6 441.4 L260.0 454.2 L260.4 460.7 L260.8 460.7 L261.2 456.7 L261.6 457.7 L262.0 460.7 L262.4 460.6 L262.8 456.5 L263.2 453.9 L263.6 458.0 L264.0 460.7 L264.4 460.7 L264.8 460.7 L265.2 460.7 L265.6 460.7 L266.0 460.7 L266.4 460.7 L266.8 448.5 L267.2 439.9 L267.6 439.1 L268.0 447.3 L268.4 460.7 L268.8 460.7 L269.2 460.7 L269.6 459.1 L270.0 449.7 L270.4 448.0 L270.8 457.1 L271.2 460.7 L271.6 460.7 L272.0 460.7 L272.4 460.7 L272.8 460.7 L273.2 454.0 L273.6 457.9 L274.0 460.7 L274.4 460.7 L274.8 460.7 L275.2 460.7 L275.6 455.7 L276.0 452.7 L276.4 459.6 L276.8 460.7 L277.2 460.7 L277.6 460.7 L278.0 460.7 L278.4 460.7 L278.8 460.7 L279.2 460.7 L279.6 460.7 L280.0 460.7 L280.4 460.7 L280.8 460.7 L281.2 460.7 L281.6 460.7 L282.0 460.7 L282.4 460.7 L282.8 460.7 L283.2 460.7 L283.6 460.7 L284.0 460.7 L284.4 460.7 L284.8 460.7 L285.2 460.7 L285.6 460.7 L286.0 460.7 L286.4 460.7 L286.8 460.7 L287.2 460.7 L287.6 460.7 L288.0 459.7 L288.4 453.4 L288.8 456.3 L289.2 460.7 L289.6 460.7 L290.0 459.3 L290.4 460.7 L290.8 460.7 L291.2 460.7 L291.6 460.7 L292.0 460.7 L292.4 460.7 L292.8 460.7 L293.2 456.8 L293.6 451.7 L294.0 451.3 L294.4 459.2 L294.8 460.7 L295.2 460.7 L295.6 455.4 L296.0 455.6 L296.4 460.0 L296.8 460.7 L297.2 460.7 L297.6 460.7 L298.0 460.7 L298.4 460.7 L298.8 460.2 L299.2 450.7 L299.6 448.9 L300.0 457.2 L300.4 460.7 L300.8 460.4 L301.2 455.1 L301.6 459.7 L302.0 459.7 L302.4 451.5 L302.8 449.9 L303.2 457.8 L303.6 460.7 L304.0 460.7 L304.4 460.7 L304.8 460.7 L305.2 460.7 L305.6 460.7 L306.0 460.7 L306.4 460.7 L306.8 460.7 L307.2 460.7 L307.6 460.7 L308.0 460.7 L308.4 460.7 L308.8 460.7 L309.2 460.7 L309.6 460.7 L310.0 460.7 L310.4 460.7 L310.8 460.7 L311.2 460.7 L311.6 460.7 L312.0 459.8 L312.4 456.5 L312.8 457.5 L313.2 460.7 L313.6 460.7 L314.0 460.7 L314.4 460.7 L314.8 460.7 L315.2 460.7 L315.6 460.7 L316.0 460.7 L316.4 460.7 L316.8 460.7 L317.2 460.7 L317.6 460.7 L318.0 460.7 L318.4 460.7 L318.8 460.7 L319.2 460.7 L319.6 460.7 L320.0 460.7 L320.4 460.7 L320.8 460.7 L321.2 460.7 L321.6 460.7 L322.0 460.7 L322.4 460.7 L322.8 455.7 L323.2 453.3 L323.6 459.9 L324.0 460.7 L324.4 460.7 L324.8 460.7 L325.2 460.7 L325.6 460.7 L326.0 460.7 L326.4 460.7 L326.8 460.7 L327.2 460.7 L327.6 460.7 L328.0 460.7 L328.4 460.7 L328.8 460.7 L329.2 460.7 L329.6 460.7 L330.0 460.7 L330.4 460.7 L330.8 460.7 L331.2 460.7 L331.6 460.7 L332.0 460.7 L332.4 460.7 L332.8 460.7 L333.2 458.4 L333.6 458.5 L334.0 460.7" stroke="#ffff00" stroke-width="1.7" fill="none" stroke-linejoin="round"/>
<path d="M85.2 460.7 L85.6 460.7 L86.0 460.7 L86.4 445.6 L86.8 435.2 L87.2 432.1 L87.6 435.8 L88.0 448.5 L88.4 460.7 L88.8 459.9 L89.2 450.5 L89.6 456.5 L90.0 460.7 L90.4 454.0 L90.8 438.8 L91.2 435.0 L91.6 439.6 L92.0 455.4 L92.4 460.7 L92.8 460.7 L93.2 453.6 L93.6 456.5 L94.0 460.7 L94.4 460.7 L94.8 444.9 L95.2 436.2 L95.6 435.0 L96.0 441.5 L96.4 458.7 L96.8 460.7 L97.2 456.7 L97.6 457.0 L98.0 460.7 L98.4 460.7 L98.8 457.7 L99.2 445.9 L99.6 440.1 L100.0 439.0 L100.4 442.6 L100.8 450.3 L101.2 460.7 L101.6 460.7 L102.0 460.7 L102.4 448.2 L102.8 440.9 L103.2 441.5 L103.6 450.5 L104.0 460.7 L104.4 460.7 L104.8 460.7 L105.2 460.7 L105.6 460.7 L106.0 460.7 L106.4 450.0 L106.8 447.6 L107.2 452.3 L107.6 460.7 L108.0 460.7 L108.4 460.7 L108.8 459.3 L109.2 459.9 L109.6 458.7 L110.0 453.6 L110.4 447.7 L110.8 444.8 L111.2 445.9 L111.6 445.8 L112.0 439.2 L112.4 434.2 L112.8 435.8 L113.2 447.1 L113.6 460.7 L114.0 460.7 L114.4 460.4 L114.8 460.7 L115.2 446.1 L115.6 435.6 L116.0 434.0 L116.4 440.5 L116.8 452.4 L117.2 452.9 L117.6 451.0 L118.0 459.3 L118.4 460.7 L118.8 450.7 L119.2 445.0 L119.6 448.7 L120.0 460.7 L120.4 460.7 L120.8 446.1 L121.2 434.8 L121.6 430.6 L122.0 430.7 L122.4 433.3 L122.8 436.6 L123.2 440.6 L123.6 447.8 L124.0 460.7 L124.4 460.7 L124.8 460.7 L125.2 459.8 L125.6 459.1 L126.0 460.7 L126.4 458.5 L126.8 455.7 L127.2 457.6 L127.6 460.7 L128.0 459.1 L128.4 453.6 L128.8 452.2 L129.2 453.4 L129.6 453.8 L130.0 453.4 L130.4 451.3 L130.8 446.7 L131.2 444.8 L131.6 450.5 L132.0 460.7 L132.4 460.7 L132.8 454.9 L133.2 455.5 L133.6 460.7 L134.0 460.7 L134.4 449.8 L134.8 442.2 L135.2 440.3 L135.6 442.5 L136.0 450.8 L136.4 460.7 L136.8 453.3 L137.2 445.6 L137.6 448.4 L138.0 457.1 L138.4 449.1 L138.8 438.5 L139.2 432.2 L139.6 427.6 L140.0 425.2 L140.4 427.9 L140.8 439.6 L141.2 460.7 L141.6 448.3 L142.0 438.0 L142.4 442.4 L142.8 460.7 L143.2 452.0 L143.6 433.9 L144.0 426.9 L144.4 425.7 L144.8 428.8 L145.2 437.1 L145.6 454.0 L146.0 460.7 L146.4 460.7 L146.8 453.1 L147.2 448.6 L147.6 445.9 L148.0 443.0 L148.4 439.9 L148.8 437.6 L149.2 437.0 L149.6 437.3 L150.0 435.2 L150.4 429.4 L150.8 424.9 L151.2 425.5 L151.6 434.5 L152.0 460.7 L152.4 445.0 L152.8 432.6 L153.2 435.0 L153.6 456.0 L154.0 457.9 L154.4 437.5 L154.8 435.0 L155.2 438.8 L155.6 436.5 L156.0 432.3 L156.4 434.1 L156.8 440.2 L157.2 444.0 L157.6 450.1 L158.0 460.7 L158.4 455.0 L158.8 441.4 L159.2 443.2 L159.6 439.6 L160.0 423.9 L160.4 415.3 L160.8 414.1 L161.2 419.8 L161.6 433.3 L162.0 450.5 L162.4 445.9 L162.8 443.3 L163.2 450.1 L163.6 460.7 L164.0 450.4 L164.4 436.4 L164.8 427.3 L165.2 421.1 L165.6 417.1 L166.0 414.7 L166.4 413.9 L166.8 414.5 L167.2 416.6 L167.6 420.4 L168.0 426.3 L168.4 424.7 L168.8 421.0 L169.2 419.5 L169.6 421.2 L170.0 425.6 L170.4 431.1 L170.8 426.7 L171.2 417.3 L171.6 411.0 L172.0 406.8 L172.4 404.3 L172.8 403.4 L173.2 404.0 L173.6 406.0 L174.0 409.6 L174.4 415.3 L174.8 420.6 L175.2 430.2 L175.6 448.5 L176.0 431.1 L176.4 413.2 L176.8 396.4 L177.2 380.8 L177.6 366.3 L178.0 353.0 L178.4 340.9 L178.8 329.9 L179.2 320.0 L179.6 311.4 L180.0 303.8 L180.4 297.5 L180.8 292.3 L181.2 288.2 L181.6 285.3 L182.0 283.6 L182.4 283.0 L182.8 283.6 L183.2 285.3 L183.6 288.2 L184.0 292.3 L184.4 297.5 L184.8 303.8 L185.2 311.4 L185.6 320.0 L186.0 329.9 L186.4 340.9 L186.8 353.0 L187.2 366.3 L187.6 380.8 L188.0 396.4 L188.4 413.2 L188.8 431.1 L189.2 441.4 L189.6 438.3 L190.0 432.4 L190.4 418.5 L190.8 409.4 L191.2 403.2 L191.6 399.2 L192.0 396.9 L192.4 396.1 L192.8 396.7 L193.2 398.8 L193.6 402.6 L194.0 408.5 L194.4 417.2 L194.8 418.7 L195.2 419.7 L195.6 425.7 L196.0 436.8 L196.4 436.2 L196.8 431.0 L197.2 427.8 L197.6 425.0 L198.0 423.7 L198.4 423.8 L198.8 424.8 L199.2 428.6 L199.6 437.2 L200.0 449.0 L200.4 459.9 L200.8 460.7 L201.2 453.8 L201.6 436.7 L202.0 433.0 L202.4 437.5 L202.8 437.2 L203.2 428.6 L203.6 425.7 L204.0 429.6 L204.4 432.3 L204.8 425.8 L205.2 422.1 L205.6 426.3 L206.0 441.2 L206.4 442.5 L206.8 425.7 L207.2 419.2 L207.6 419.8 L208.0 427.1 L208.4 439.1 L208.8 438.0 L209.2 431.6 L209.6 432.7 L210.0 442.7 L210.4 458.3 L210.8 450.4 L211.2 444.6 L211.6 449.1 L212.0 460.7 L212.4 460.7 L212.8 448.7 L213.2 442.1 L213.6 446.8 L214.0 460.7 L214.4 460.7 L214.8 443.8 L215.2 440.5 L215.6 447.1 L216.0 455.6 L216.4 448.2 L216.8 443.5 L217.2 447.7 L217.6 460.7 L218.0 460.7 L218.4 457.6 L218.8 448.5 L219.2 444.1 L219.6 440.4 L220.0 437.5 L220.4 437.0 L220.8 440.3 L221.2 447.9 L221.6 454.1 L222.0 443.8 L222.4 431.2 L222.8 423.2 L223.2 419.7 L223.6 421.2 L224.0 428.6 L224.4 444.6 L224.8 460.7 L225.2 460.7 L225.6 460.7 L226.0 460.7 L226.4 455.2 L226.8 447.1 L227.2 448.6 L227.6 459.0 L228.0 460.7 L228.4 460.7 L228.8 455.9 L229.2 453.0 L229.6 460.2 L230.0 460.7 L230.4 460.7 L230.8 459.9 L231.2 460.7 L231.6 460.7 L232.0 459.0 L232.4 444.6 L232.8 439.7 L233.2 441.1 L233.6 448.6 L234.0 460.7 L234.4 460.7 L234.8 460.7 L235.2 460.7 L235.6 460.7 L236.0 456.0 L236.4 444.0 L236.8 438.3 L237.2 438.0 L237.6 441.7 L238.0 448.0 L238.4 454.7 L238.8 460.7 L239.2 460.7 L239.6 459.4 L240.0 457.0 L240.4 455.3 L240.8 457.9 L241.2 460.7 L241.6 460.7 L242.0 460.7 L242.4 460.7 L242.8 460.7 L243.2 460.7 L243.6 460.7 L244.0 460.7 L244.4 460.7 L244.8 458.3 L245.2 448.4 L245.6 446.2 L246.0 450.0 L246.4 459.5 L246.8 460.7 L247.2 460.7 L247.6 460.7 L248.0 460.7 L248.4 460.7 L248.8 460.7 L249.2 460.7 L249.6 460.7 L250.0 455.4 L250.4 449.8 L250.8 449.4 L251.2 455.4 L251.6 460.7 L252.0 460.7 L252.4 456.6 L252.8 459.8 L253.2 460.7 L253.6 460.7 L254.0 460.7 L254.4 460.7 L254.8 460.7 L255.2 460.7 L255.6 460.7 L256.0 460.7 L256.4 460.7 L256.8 460.7 L257.2 460.7 L257.6 460.7 L258.0 460.7 L258.4 460.7 L258.8 460.7 L259.2 460.7 L259.6 460.7 L260.0 460.7 L260.4 460.7 L260.8 460.7 L261.2 460.7 L261.6 457.8 L262.0 459.0 L262.4 460.7 L262.8 460.7 L263.2 460.7 L263.6 460.7 L264.0 460.7 L264.4 460.7 L264.8 460.7 L265.2 460.7 L265.6 460.7 L266.0 460.7 L266.4 460.7 L266.8 460.7 L267.2 460.7 L267.6 460.7 L268.0 460.7 L268.4 456.9 L268.8 445.8 L269.2 441.4 L269.6 444.0 L270.0 456.6 L270.4 460.7 L270.8 460.7 L271.2 453.3 L271.6 458.9 L272.0 460.7 L272.4 460.7 L272.8 458.6 L273.2 458.3 L273.6 460.7 L274.0 460.7 L274.4 460.7 L274.8 460.7 L275.2 460.7 L275.6 460.7 L276.0 460.7 L276.4 460.7 L276.8 460.7 L277.2 460.7 L277.6 460.7 L278.0 460.7 L278.4 460.7 L278.8 460.7 L279.2 460.7 L279.6 458.9 L280.0 460.7 L280.4 460.7 L280.8 460.7 L281.2 460.7 L281.6 460.7 L282.0 460.7 L282.4 460.7 L282.8 460.7 L283.2 460.7 L283.6 460.7 L284.0 460.7 L284.4 460.7 L284.8 460.7 L285.2 460.7 L285.6 460.7 L286.0 460.7 L286.4 460.7 L286.8 460.7 L287.2 460.7 L287.6 460.7 L288.0 460.7 L288.4 460.7 L288.8 460.7 L289.2 460.7 L289.6 460.7 L290.0 460.7 L290.4 460.7 L290.8 460.7 L291.2 460.7 L291.6 460.7 L292.0 460.7 L292.4 460.7 L292.8 460.7 L293.2 460.7 L293.6 460.7 L294.0 460.7 L294.4 455.8 L294.8 453.7 L295.2 457.1 L295.6 460.7 L296.0 460.7 L296.4 460.7 L296.8 460.7 L297.2 460.7 L297.6 460.7 L298.0 447.6 L298.4 439.8 L298.8 439.2 L299.2 446.6 L299.6 460.7 L300.0 460.7 L300.4 450.0 L300.8 444.3 L301.2 447.7 L301.6 460.7 L302.0 460.7 L302.4 460.7 L302.8 457.7 L303.2 460.7 L303.6 460.7 L304.0 460.7 L304.4 460.7 L304.8 460.7 L305.2 460.7 L305.6 460.7 L306.0 460.7 L306.4 460.7 L306.8 460.7 L307.2 460.7 L307.6 456.8 L308.0 451.9 L308.4 452.6 L308.8 459.9 L309.2 460.7 L309.6 460.7 L310.0 454.4 L310.4 453.2 L310.8 455.6 L311.2 456.9 L311.6 455.0 L312.0 452.8 L312.4 451.8 L312.8 452.6 L313.2 456.5 L313.6 460.7 L314.0 460.7 L314.4 460.7 L314.8 460.7 L315.2 460.7 L315.6 460.7 L316.0 460.7 L316.4 460.7 L316.8 460.7 L317.2 460.7 L317.6 460.7 L318.0 459.5 L318.4 455.3 L318.8 456.7 L319.2 460.7 L319.6 460.7 L320.0 460.7 L320.4 460.7 L320.8 460.7 L321.2 460.7 L321.6 460.7 L322.0 460.7 L322.4 460.7 L322.8 460.7 L323.2 460.7 L323.6 460.7 L324.0 460.7 L324.4 460.7 L324.8 460.7 L325.2 460.7 L325.6 460.7 L326.0 460.7 L326.4 460.7 L326.8 460.7 L327.2 460.7 L327.6 460.7 L328.0 460.7 L328.4 460.7 L328.8 460.7 L329.2 460.7 L329.6 460.7 L330.0 460.7 L330.4 460.7 L330.8 460.7 L331.2 460.7 L331.6 460.7 L332.0 453.7 L332.4 452.4 L332.8 459.6 L333.2 460.7 L333.6 460.7 L334.0 460.7" stroke="#808000" stroke-width="1.7" fill="none" stroke-linejoin="round"/>
<path d="M85.7 460.2h4.2 M85.7 446.9h2.2 M85.7 439.1h2.2 M85.7 433.5h2.2 M85.7 429.2h2.2 M85.7 425.7h2.2 M85.7 422.8h2.2 M85.7 420.2h2.2 M85.7 417.9h2.2 M85.7 415.9h4.2 M85.7 402.6h2.2 M85.7 394.8h2.2 M85.7 389.2h2.2 M85.7 384.9h2.2 M85.7 381.4h2.2 M85.7 378.5h2.2 M85.7 375.9h2.2 M85.7 373.6h2.2 M85.7 371.6h4.2 M85.7 358.3h2.2 M85.7 350.5h2.2 M85.7 344.9h2.2 M85.7 340.6h2.2 M85.7 337.1h2.2 M85.7 334.2h2.2 M85.7 331.6h2.2 M85.7 329.3h2.2 M85.7 327.3h4.2 M85.7 314.0h2.2 M85.7 306.2h2.2 M85.7 300.6h2.2 M85.7 296.3h2.2 M85.7 292.8h2.2 M85.7 289.9h2.2 M85.7 287.3h2.2 M85.7 285.0h2.2 M85.7 283.0h4.2 M85.7 269.7h2.2 M85.7 261.9h2.2 M85.7 460.2v4.2 M110.5 460.2v2.4 M135.3 460.2v4.2 M160.0 460.2v2.4 M184.8 460.2v4.2 M209.6 460.2v2.4 M234.4 460.2v4.2 M259.2 460.2v2.4 M283.9 460.2v4.2 M308.7 460.2v2.4 M333.5 460.2v4.2" stroke="#000" stroke-width="1.3" fill="none"/>
<rect x="85.7" y="261.9" width="247.8" height="198.3" stroke="#000" stroke-width="1.3" fill="none"/>
<text transform="translate(80.0 463.4) scale(0.95 1)" font-size="9.4" text-anchor="end" fill="#222" stroke="#222" stroke-width="0.08" >1E-4</text>
<text transform="translate(80.0 419.1) scale(0.95 1)" font-size="9.4" text-anchor="end" fill="#222" stroke="#222" stroke-width="0.08" >1E-3</text>
<text transform="translate(80.0 374.8) scale(0.95 1)" font-size="9.4" text-anchor="end" fill="#222" stroke="#222" stroke-width="0.08" >0.01</text>
<text transform="translate(80.0 330.5) scale(0.95 1)" font-size="9.4" text-anchor="end" fill="#222" stroke="#222" stroke-width="0.08" >0.1</text>
<text transform="translate(80.0 286.2) scale(0.95 1)" font-size="9.4" text-anchor="end" fill="#222" stroke="#222" stroke-width="0.08" >1</text>
<text transform="translate(85.7 474.6) scale(0.95 1)" font-size="9.8" text-anchor="middle" fill="#222" stroke="#222" stroke-width="0.08" >2080</text>
<text transform="translate(135.3 474.6) scale(0.95 1)" font-size="9.8" text-anchor="middle" fill="#222" stroke="#222" stroke-width="0.08" >2082</text>
<text transform="translate(184.8 474.6) scale(0.95 1)" font-size="9.8" text-anchor="middle" fill="#222" stroke="#222" stroke-width="0.08" >2084</text>
<text transform="translate(234.4 474.6) scale(0.95 1)" font-size="9.8" text-anchor="middle" fill="#222" stroke="#222" stroke-width="0.08" >2086</text>
<text transform="translate(283.9 474.6) scale(0.95 1)" font-size="9.8" text-anchor="middle" fill="#222" stroke="#222" stroke-width="0.08" >2088</text>
<text transform="translate(333.5 474.6) scale(0.95 1)" font-size="9.8" text-anchor="middle" fill="#222" stroke="#222" stroke-width="0.08" >2090</text>
<text x="137.3" y="495" font-size="16" fill="#222" stroke="#222" stroke-width="0.22">Wave number (cm<tspan font-size="10" dy="-5.6">-1</tspan><tspan dy="5.6">)</tspan></text>
<text transform="translate(54.8 370.0) rotate(-90)" font-size="16" text-anchor="middle" fill="#222" stroke="#222" stroke-width="0.22">Intensity (a. u.)</text>
<text x="99.8" y="283.8" font-size="16" text-anchor="start" fill="#222" >(b)</text>
<text x="164.2" y="275.4" font-size="11" text-anchor="start" fill="#85852e" >1.7 A</text>
<text x="266.0" y="275.4" font-size="11" text-anchor="start" fill="#222" >1.0 A</text>
<path d="M214 272.3H253.5" stroke="#000" stroke-width="0.9"/>
<path d="M209.5 272.3l5 -1.8v3.6z" fill="#000"/>
</svg>
</body></html>
